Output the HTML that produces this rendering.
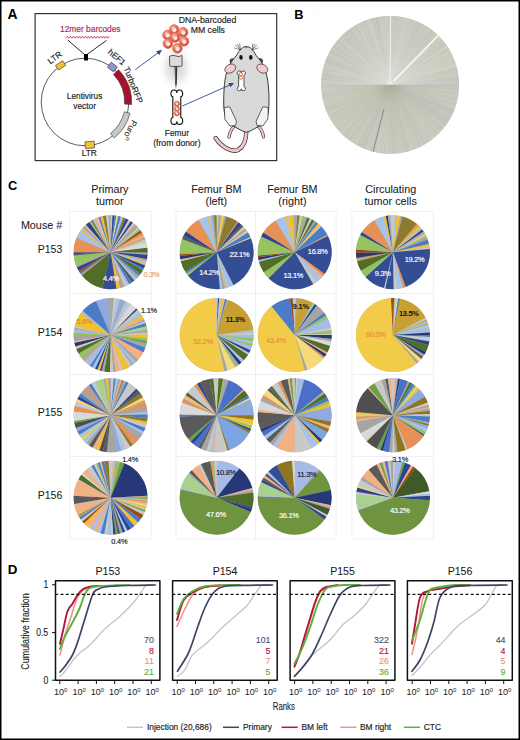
<!DOCTYPE html>
<html><head><meta charset="utf-8"><title>Figure</title>
<style>
html,body{margin:0;padding:0;background:#fff;}
#fig{position:relative;width:520px;height:740px;overflow:hidden;background:#fff;}
#fig svg{position:absolute;left:0;top:0;}
text{font-family:"Liberation Sans", sans-serif;}
</style></head><body>
<div id="fig">
<svg width="520" height="740" viewBox="0 0 520 740" font-family="Liberation Sans, sans-serif">
<text x="7.6" y="19.0" font-size="13.9" fill="#000" text-anchor="start" font-weight="bold" >A</text>
<text x="294.2" y="18.8" font-size="12.8" fill="#000" text-anchor="start" font-weight="bold" >B</text>
<text x="7.9" y="190.2" font-size="12.8" fill="#000" text-anchor="start" font-weight="bold" >C</text>
<text x="7.7" y="574.0" font-size="13.4" fill="#000" text-anchor="start" font-weight="bold" >D</text>
<rect x="35.1" y="13.6" width="241.6" height="147" fill="none" stroke="#333" stroke-width="1.2"/>
<circle cx="85" cy="102" r="43.8" fill="none" stroke="#333" stroke-width="0.8"/>
<path d="M67.8,40 L85.6,55.5 L106.5,40.4" fill="none" stroke="#111" stroke-width="0.9"/>
<rect x="84" y="54" width="4" height="6.5" fill="#000"/>
<path d="M65.9,38.3 L67.40,36.10 L68.90,38.30 L70.40,36.10 L71.90,38.30 L73.40,36.10 L74.90,38.30 L76.40,36.10 L77.90,38.30 L79.40,36.10 L80.90,38.30 L82.40,36.10 L83.90,38.30 L85.40,36.10 L86.90,38.30 L88.40,36.10 L89.90,38.30 L91.40,36.10 L92.90,38.30 L94.40,36.10 L95.90,38.30 L97.40,36.10 L98.90,38.30 L100.40,36.10 L101.90,38.30 L103.40,36.10 L104.90,38.30 L106.40,36.10 L107.90,38.30 L109.40,36.10" fill="none" stroke="#B8304E" stroke-width="0.75" stroke-linejoin="round"/>
<text x="90.3" y="31.9" font-size="8.4" fill="#B02550" text-anchor="middle" font-weight="normal" stroke="#B02550" stroke-width="0.16" >12mer barcodes</text>
<rect x="-4.3" y="-2.75" width="8.6" height="5.5" fill="#F2C12E" stroke="#333" stroke-width="0.6" transform="translate(60.6,65.4) rotate(-33.7)"/>
<text x="0" y="0" font-size="8.4" fill="#222" text-anchor="middle" font-weight="normal" stroke="#222" stroke-width="0.16" transform="translate(56.5,60) rotate(-36)">LTR</text>
<rect x="-4.6" y="-3.4" width="9.2" height="6.8" fill="#F2C12E" stroke="#333" stroke-width="0.6" transform="translate(89.8,144.9) rotate(-4)"/>
<text x="89.3" y="156.3" font-size="8.4" fill="#222" text-anchor="middle" font-weight="normal" stroke="#222" stroke-width="0.16" >LTR</text>
<rect x="-3.9" y="-3.1" width="7.8" height="6.2" fill="#8E9ACB" stroke="#333" stroke-width="0.6" transform="translate(112.4,67.1) rotate(37)"/>
<text x="0" y="0" font-size="8.4" fill="#222" text-anchor="middle" font-weight="normal" stroke="#222" stroke-width="0.16" transform="translate(115,59.4) rotate(40)">hEF1</text>
<path d="M118.52,69.63 A46.6,46.6 0 0 1 131.54,104.44 L124.55,104.07 A39.6,39.6 0 0 0 113.49,74.49 Z" fill="#A8102E" stroke="#333" stroke-width="0.6"/>
<path d="M130.02,113.23 A46.4,46.4 0 0 1 114.20,138.06 L110.55,133.55 A40.6,40.6 0 0 0 124.39,111.82 Z" fill="#C8C8CC" stroke="#333" stroke-width="0.6"/>
<text x="0" y="0" font-size="8.4" fill="#222" text-anchor="middle" font-weight="normal" stroke="#222" stroke-width="0.16" transform="translate(130.6,86.1) rotate(68)">TurboRFP</text>
<text x="0" y="0" font-size="8.4" fill="#222" text-anchor="middle" transform="translate(127.2,128.9) rotate(118)">Puro<tspan font-size="5" dy="-3">R</tspan></text>
<text x="84.6" y="98.8" font-size="8.3" fill="#222" text-anchor="middle" font-weight="normal" stroke="#222" stroke-width="0.16" >Lentivirus</text>
<text x="84.6" y="108.6" font-size="8.3" fill="#222" text-anchor="middle" font-weight="normal" stroke="#222" stroke-width="0.16" >vector</text>
<path d="M135.4,69.6 L159,52" stroke="#2E4A8A" stroke-width="0.9" fill="none"/>
<path d="M162,49.8 L156.2,51.2 L159.2,55.2 Z" fill="#2E4A8A"/>
<defs><radialGradient id="glow" cx="0.5" cy="0.5" r="0.5"><stop offset="0" stop-color="#d0d0d0"/><stop offset="0.5" stop-color="#e8e8e8"/><stop offset="1" stop-color="#fff" stop-opacity="0"/></radialGradient></defs>
<ellipse cx="176" cy="68" rx="19" ry="24" fill="url(#glow)"/>
<defs><radialGradient id="cell" cx="0.38" cy="0.32" r="0.7"><stop offset="0" stop-color="#F6C4BC"/><stop offset="0.45" stop-color="#E47A70"/><stop offset="1" stop-color="#C8343A"/></radialGradient></defs>
<circle cx="174.1" cy="29.5" r="4.8" fill="url(#cell)" stroke="#E8743C" stroke-width="0.9"/>
<circle cx="174.4" cy="30.0" r="2.0" fill="#FBEDE2" stroke="#F2CFC0" stroke-width="0.4"/>
<circle cx="167.5" cy="35.1" r="4.8" fill="url(#cell)" stroke="#E8743C" stroke-width="0.9"/>
<circle cx="167.8" cy="35.6" r="2.0" fill="#FBEDE2" stroke="#F2CFC0" stroke-width="0.4"/>
<circle cx="183.1" cy="32.3" r="4.8" fill="url(#cell)" stroke="#E8743C" stroke-width="0.9"/>
<circle cx="183.4" cy="32.8" r="2.0" fill="#FBEDE2" stroke="#F2CFC0" stroke-width="0.4"/>
<circle cx="184" cy="41.3" r="4.8" fill="url(#cell)" stroke="#E8743C" stroke-width="0.9"/>
<circle cx="184.3" cy="41.8" r="2.0" fill="#FBEDE2" stroke="#F2CFC0" stroke-width="0.4"/>
<circle cx="175" cy="37.5" r="4.8" fill="url(#cell)" stroke="#E8743C" stroke-width="0.9"/>
<circle cx="175.3" cy="38.0" r="2.0" fill="#FBEDE2" stroke="#F2CFC0" stroke-width="0.4"/>
<circle cx="167.9" cy="43.6" r="4.8" fill="url(#cell)" stroke="#E8743C" stroke-width="0.9"/>
<circle cx="168.20000000000002" cy="44.1" r="2.0" fill="#FBEDE2" stroke="#F2CFC0" stroke-width="0.4"/>
<circle cx="177.4" cy="48.4" r="4.8" fill="url(#cell)" stroke="#E8743C" stroke-width="0.9"/>
<circle cx="177.70000000000002" cy="48.9" r="2.0" fill="#FBEDE2" stroke="#F2CFC0" stroke-width="0.4"/>
<path d="M169.6,56.2 Q173,54.4 176,56 Q179,57.4 182,55.4 L182,65.2 Q182,66.4 180.8,66.4 L170.8,66.4 Q169.6,66.4 169.6,65.2 Z" fill="#DCDCDC" stroke="#333" stroke-width="0.8"/>
<path d="M174.6,66.4 L177.2,66.4 L176.9,83 L175.9,88.6 L175.1,83 Z" fill="#333"/>
<path d="M175.6,67 L175.6,81" stroke="#888" stroke-width="0.5"/>
<path d="M172.83,96.88 C170.10,96.88 170.10,89.50 174.01,90.00 Q176.80,89.70 176.80,93.10 Q176.80,89.70 179.59,90.00 C183.50,89.50 183.50,96.88 180.77,96.88 L180.77,117.52 C183.50,117.52 183.50,124.90 179.59,124.40 Q176.80,124.70 176.80,121.30 Q176.80,124.70 174.01,124.40 C170.10,124.90 170.10,117.52 172.83,117.52 Z" fill="#fff" stroke="#111" stroke-width="1.1"/>
<circle cx="176.9" cy="103.7" r="2.6" fill="url(#cell)" stroke="#E8743C" stroke-width="0.7"/>
<circle cx="177.1" cy="104.0" r="1.1" fill="#FBEDE2"/>
<circle cx="176.9" cy="108.6" r="2.6" fill="url(#cell)" stroke="#E8743C" stroke-width="0.7"/>
<circle cx="177.1" cy="108.89999999999999" r="1.1" fill="#FBEDE2"/>
<circle cx="176.9" cy="113.3" r="2.6" fill="url(#cell)" stroke="#E8743C" stroke-width="0.7"/>
<circle cx="177.1" cy="113.6" r="1.1" fill="#FBEDE2"/>
<text x="176.9" y="135.5" font-size="8.4" fill="#222" text-anchor="middle" font-weight="normal" stroke="#222" stroke-width="0.16" >Femur</text>
<text x="176.9" y="145.9" font-size="8.6" fill="#222" text-anchor="middle" font-weight="normal" stroke="#222" stroke-width="0.16" >(from donor)</text>
<text x="207.5" y="22.8" font-size="8.7" fill="#222" text-anchor="middle" font-weight="normal" stroke="#222" stroke-width="0.16" >DNA-barcoded</text>
<text x="207.8" y="32.9" font-size="8.7" fill="#222" text-anchor="middle" font-weight="normal" stroke="#222" stroke-width="0.16" >MM cells</text>
<path d="M246.3,131 C246.3,140 244,146.5 238,150 C232,152.5 222,147.5 215.6,138" fill="none" stroke="#333" stroke-width="4.4" stroke-linecap="round"/>
<path d="M246.3,131 C246.3,140 244,146.5 238,150 C232,152.5 222,147.5 215.6,138" fill="none" stroke="#F2C6C6" stroke-width="3.0" stroke-linecap="round"/>
<path d="M235,125.5 Q230.5,129 229,137" fill="none" stroke="#333" stroke-width="3.2" stroke-linecap="round"/>
<path d="M235,125.5 Q230.5,129 229,137" fill="none" stroke="#F2C6C6" stroke-width="2.0" stroke-linecap="round"/>
<path d="M257.6,125.5 Q262.1,129 263.6,137" fill="none" stroke="#333" stroke-width="3.2" stroke-linecap="round"/>
<path d="M257.6,125.5 Q262.1,129 263.6,137" fill="none" stroke="#F2C6C6" stroke-width="2.0" stroke-linecap="round"/>
<ellipse cx="232.8" cy="61" rx="3" ry="2.4" fill="#555" stroke="#222" stroke-width="0.5"/>
<ellipse cx="259.8" cy="61" rx="3" ry="2.4" fill="#555" stroke="#222" stroke-width="0.5"/>
<path d="M246.3,46.4 C249.8,46.4 253.3,50 256.2,55.6 C259.8,59.6 263.2,64 265.2,70 C268.2,78 269,90 269,103 C269,116 265.5,124 257.5,127 C253.5,129 249.3,132.2 246.3,132.2 C243.3,132.2 239.1,129 235.1,127 C227.1,124 223.7,116 223.7,103 C223.7,90 224.5,78 227.4,70 C229.4,64 232.8,59.6 236.4,55.6 C239.3,50 242.8,46.4 246.3,46.4 Z" fill="#D9D9D9" stroke="#222" stroke-width="0.9"/>
<path d="M224.3,107.5 L229.8,106.8 L236.5,121.3 L235.6,125.5 L229.8,126 L224.8,119 Z" fill="#F4F4F4" stroke="#222" stroke-width="0.7"/>
<path d="M268.3,107.5 L262.8,106.8 L256.1,121.3 L257,125.5 L262.8,126 L267.8,119 Z" fill="#F4F4F4" stroke="#222" stroke-width="0.7"/>
<ellipse cx="230.3" cy="68.6" rx="5.8" ry="4.2" transform="rotate(-28 230.3 68.6)" fill="#F4CACE" stroke="#222" stroke-width="0.6"/>
<ellipse cx="262.3" cy="68.6" rx="5.8" ry="4.2" transform="rotate(28 262.3 68.6)" fill="#F4CACE" stroke="#222" stroke-width="0.6"/>
<ellipse cx="246.3" cy="47.3" rx="1.6" ry="1" fill="#888"/>
<ellipse cx="241" cy="57.4" rx="1.7" ry="2.3" fill="#111"/><ellipse cx="250.8" cy="57.4" rx="1.7" ry="2.3" fill="#111"/>
<path d="M240.5,50 L234,47.8 M240.5,50 L235.2,45 M240.5,50 L237.3,43.8 M240.5,50 L239.6,43.4 M252,50 L258.5,47.8 M252,50 L257.3,45 M252,50 L255.2,43.8 M252,50 L252.9,43.4" stroke="#333" stroke-width="0.55"/>
<path d="M238.61,75.02 C236.60,75.02 236.60,70.60 239.41,71.10 Q241.30,70.80 241.30,72.86 Q241.30,70.80 243.19,71.10 C246.00,70.60 246.00,75.02 243.99,75.02 L243.99,86.78 C246.00,86.78 246.00,91.20 243.19,90.70 Q241.30,91.00 241.30,88.94 Q241.30,91.00 239.41,90.70 C236.60,91.20 236.60,86.78 238.61,86.78 Z" fill="#fff" stroke="#111" stroke-width="0.7"/>
<circle cx="240.9" cy="74.2" r="1.6" fill="none" stroke="#E0603A" stroke-width="0.9"/><circle cx="240.9" cy="77.6" r="1.6" fill="none" stroke="#E0603A" stroke-width="0.9"/>
<path d="M182.3,106 L230.8,84.6" stroke="#2E4A8A" stroke-width="0.9" fill="none"/>
<path d="M234.2,83.1 L228.4,83.0 L230.3,87.3 Z" fill="#2E4A8A"/>
<rect x="314" y="8.3" width="152.7" height="152.7" fill="none" stroke="#F0F0F0" stroke-width="0.6" stroke-dasharray="0.6 1.2"/>
<circle cx="390.1" cy="84.8" r="68.9" fill="#C7C9BD"/>
<path d="M390.10,84.80L390.10,15.90A68.9,68.9 0 0 1 391.13,15.91Z" fill="#CDCDBF"/>
<path d="M390.10,84.80L391.13,15.91A68.9,68.9 0 0 1 392.25,15.93Z" fill="#C9CBBF"/>
<path d="M390.10,84.80L392.25,15.93A68.9,68.9 0 0 1 392.95,15.96Z" fill="#CCCABA"/>
<path d="M390.10,84.80L392.95,15.96A68.9,68.9 0 0 1 393.67,15.99Z" fill="#C6CAC4"/>
<path d="M390.10,84.80L393.67,15.99A68.9,68.9 0 0 1 394.35,16.03Z" fill="#CCCABA"/>
<path d="M390.10,84.80L394.35,16.03A68.9,68.9 0 0 1 395.23,16.09Z" fill="#C3C6BA"/>
<path d="M390.10,84.80L395.23,16.09A68.9,68.9 0 0 1 396.41,16.19Z" fill="#C3C6BA"/>
<path d="M390.10,84.80L396.41,16.19A68.9,68.9 0 0 1 397.32,16.28Z" fill="#CCCABA"/>
<path d="M390.10,84.80L397.32,16.28A68.9,68.9 0 0 1 398.48,16.41Z" fill="#C6CAC4"/>
<path d="M390.10,84.80L398.48,16.41A68.9,68.9 0 0 1 399.23,16.51Z" fill="#C4C8C0"/>
<path d="M390.10,84.80L399.23,16.51A68.9,68.9 0 0 1 400.66,16.71Z" fill="#C6CAC4"/>
<path d="M390.10,84.80L400.66,16.71A68.9,68.9 0 0 1 402.48,17.02Z" fill="#C6CAC4"/>
<path d="M390.10,84.80L402.48,17.02A68.9,68.9 0 0 1 403.84,17.28Z" fill="#C9CBBF"/>
<path d="M390.10,84.80L403.84,17.28A68.9,68.9 0 0 1 405.68,17.69Z" fill="#C9CBBF"/>
<path d="M390.10,84.80L405.68,17.69A68.9,68.9 0 0 1 406.98,18.00Z" fill="#CDCDBF"/>
<path d="M390.10,84.80L406.98,18.00A68.9,68.9 0 0 1 407.94,18.25Z" fill="#CDCDBF"/>
<path d="M390.10,84.80L407.94,18.25A68.9,68.9 0 0 1 409.21,18.60Z" fill="#C6CAC4"/>
<path d="M390.10,84.80L409.21,18.60A68.9,68.9 0 0 1 410.17,18.89Z" fill="#D1CDBC"/>
<path d="M390.10,84.80L410.17,18.89A68.9,68.9 0 0 1 410.98,19.14Z" fill="#C6CAC4"/>
<path d="M390.10,84.80L410.98,19.14A68.9,68.9 0 0 1 412.26,19.56Z" fill="#C4C8C0"/>
<path d="M390.10,84.80L412.26,19.56A68.9,68.9 0 0 1 413.30,19.92Z" fill="#CCCABA"/>
<path d="M390.10,84.80L413.30,19.92A68.9,68.9 0 0 1 414.74,20.46Z" fill="#C6CAC4"/>
<path d="M390.10,84.80L414.74,20.46A68.9,68.9 0 0 1 415.38,20.70Z" fill="#C4C8C0"/>
<path d="M390.10,84.80L415.38,20.70A68.9,68.9 0 0 1 416.54,21.18Z" fill="#CCCABA"/>
<path d="M390.10,84.80L416.54,21.18A68.9,68.9 0 0 1 417.62,21.63Z" fill="#BFC4BC"/>
<path d="M390.10,84.80L417.62,21.63A68.9,68.9 0 0 1 418.73,22.13Z" fill="#C2C6C2"/>
<path d="M390.10,84.80L418.73,22.13A68.9,68.9 0 0 1 419.71,22.59Z" fill="#C4C8C0"/>
<path d="M390.10,84.80L419.71,22.59A68.9,68.9 0 0 1 421.19,23.31Z" fill="#BEC3BF"/>
<path d="M390.10,84.80L421.19,23.31A68.9,68.9 0 0 1 422.64,24.07Z" fill="#C3C6BA"/>
<path d="M390.10,84.80L422.64,24.07A68.9,68.9 0 0 1 423.83,24.72Z" fill="#CCCABA"/>
<path d="M390.10,84.80L423.83,24.72A68.9,68.9 0 0 1 424.92,25.35Z" fill="#BFC4BC"/>
<path d="M390.10,84.80L424.92,25.35A68.9,68.9 0 0 1 426.26,26.15Z" fill="#CACBBB"/>
<path d="M390.10,84.80L426.26,26.15A68.9,68.9 0 0 1 427.45,26.90Z" fill="#C3C6BA"/>
<path d="M390.10,84.80L427.45,26.90A68.9,68.9 0 0 1 428.09,27.32Z" fill="#D0CFC0"/>
<path d="M390.10,84.80L428.09,27.32A68.9,68.9 0 0 1 428.77,27.77Z" fill="#BFC4BC"/>
<path d="M390.10,84.80L428.77,27.77A68.9,68.9 0 0 1 429.43,28.23Z" fill="#C2C6C2"/>
<path d="M390.10,84.80L429.43,28.23A68.9,68.9 0 0 1 430.38,28.90Z" fill="#D1CDBC"/>
<path d="M390.10,84.80L430.38,28.90A68.9,68.9 0 0 1 430.95,29.31Z" fill="#CCCABA"/>
<path d="M390.10,84.80L430.95,29.31A68.9,68.9 0 0 1 432.03,30.13Z" fill="#BFC4BC"/>
<path d="M390.10,84.80L432.03,30.13A68.9,68.9 0 0 1 432.86,30.78Z" fill="#BFC4BC"/>
<path d="M390.10,84.80L432.86,30.78A68.9,68.9 0 0 1 433.94,31.65Z" fill="#C6CAC4"/>
<path d="M390.10,84.80L433.94,31.65A68.9,68.9 0 0 1 435.20,32.72Z" fill="#C3C6BA"/>
<path d="M390.10,84.80L435.20,32.72A68.9,68.9 0 0 1 436.49,33.85Z" fill="#CACBBB"/>
<path d="M390.10,84.80L436.49,33.85A68.9,68.9 0 0 1 437.39,34.69Z" fill="#D1CDBC"/>
<path d="M390.10,84.80L437.39,34.69A68.9,68.9 0 0 1 437.88,35.16Z" fill="#BEC3BF"/>
<path d="M390.10,84.80L437.88,35.16A68.9,68.9 0 0 1 438.97,36.23Z" fill="#D1CDBC"/>
<path d="M390.10,84.80L438.97,36.23A68.9,68.9 0 0 1 439.93,37.21Z" fill="#D1CDBC"/>
<path d="M390.10,84.80L439.93,37.21A68.9,68.9 0 0 1 441.08,38.45Z" fill="#CACBBB"/>
<path d="M390.10,84.80L441.08,38.45A68.9,68.9 0 0 1 442.11,39.61Z" fill="#D1CDBC"/>
<path d="M390.10,84.80L442.11,39.61A68.9,68.9 0 0 1 442.80,40.41Z" fill="#C2C6C2"/>
<path d="M390.10,84.80L442.80,40.41A68.9,68.9 0 0 1 443.48,41.24Z" fill="#C6CAC4"/>
<path d="M390.10,84.80L443.48,41.24A68.9,68.9 0 0 1 443.95,41.82Z" fill="#C9CBBF"/>
<path d="M390.10,84.80L443.95,41.82A68.9,68.9 0 0 1 444.51,42.52Z" fill="#CACBBB"/>
<path d="M390.10,84.80L444.51,42.52A68.9,68.9 0 0 1 444.98,43.14Z" fill="#C4C8C0"/>
<path d="M390.10,84.80L444.98,43.14A68.9,68.9 0 0 1 445.65,44.04Z" fill="#C2C6C2"/>
<path d="M390.10,84.80L445.65,44.04A68.9,68.9 0 0 1 446.07,44.61Z" fill="#C2C6C2"/>
<path d="M390.10,84.80L446.07,44.61A68.9,68.9 0 0 1 446.72,45.54Z" fill="#CACBBB"/>
<path d="M390.10,84.80L446.72,45.54A68.9,68.9 0 0 1 447.71,47.01Z" fill="#D0CFC0"/>
<path d="M390.10,84.80L447.71,47.01A68.9,68.9 0 0 1 448.65,48.48Z" fill="#CACBBB"/>
<path d="M390.10,84.80L448.65,48.48A68.9,68.9 0 0 1 449.44,49.79Z" fill="#BFC4BC"/>
<path d="M390.10,84.80L449.44,49.79A68.9,68.9 0 0 1 450.19,51.09Z" fill="#D0CFC0"/>
<path d="M390.10,84.80L450.19,51.09A68.9,68.9 0 0 1 451.08,52.74Z" fill="#CDCDBF"/>
<path d="M390.10,84.80L451.08,52.74A68.9,68.9 0 0 1 451.41,53.37Z" fill="#CDCDBF"/>
<path d="M390.10,84.80L451.41,53.37A68.9,68.9 0 0 1 451.82,54.18Z" fill="#C4C8C0"/>
<path d="M390.10,84.80L451.82,54.18A68.9,68.9 0 0 1 452.09,54.73Z" fill="#C6CAC4"/>
<path d="M390.10,84.80L452.09,54.73A68.9,68.9 0 0 1 452.46,55.49Z" fill="#CACBBB"/>
<path d="M390.10,84.80L452.46,55.49A68.9,68.9 0 0 1 452.71,56.04Z" fill="#D0CFC0"/>
<path d="M390.10,84.80L452.71,56.04A68.9,68.9 0 0 1 453.25,57.24Z" fill="#C6CAC4"/>
<path d="M390.10,84.80L453.25,57.24A68.9,68.9 0 0 1 453.77,58.48Z" fill="#CDCDBF"/>
<path d="M390.10,84.80L453.77,58.48A68.9,68.9 0 0 1 454.34,59.88Z" fill="#CCCABA"/>
<path d="M390.10,84.80L454.34,59.88A68.9,68.9 0 0 1 454.99,61.63Z" fill="#D1CDBC"/>
<path d="M390.10,84.80L454.99,61.63A68.9,68.9 0 0 1 455.47,63.04Z" fill="#C9CBBF"/>
<path d="M390.10,84.80L455.47,63.04A68.9,68.9 0 0 1 455.84,64.19Z" fill="#D1CDBC"/>
<path d="M390.10,84.80L455.84,64.19A68.9,68.9 0 0 1 456.32,65.77Z" fill="#D0CFC0"/>
<path d="M390.10,84.80L456.32,65.77A68.9,68.9 0 0 1 456.62,66.86Z" fill="#D0CFC0"/>
<path d="M390.10,84.80L456.62,66.86A68.9,68.9 0 0 1 456.81,67.57Z" fill="#D1CDBC"/>
<path d="M390.10,84.80L456.81,67.57A68.9,68.9 0 0 1 457.09,68.67Z" fill="#C4C8C0"/>
<path d="M390.10,84.80L457.09,68.67A68.9,68.9 0 0 1 457.24,69.34Z" fill="#C4C8C0"/>
<path d="M390.10,84.80L457.24,69.34A68.9,68.9 0 0 1 457.50,70.50Z" fill="#C3C6BA"/>
<path d="M390.10,84.80L457.50,70.50A68.9,68.9 0 0 1 457.71,71.53Z" fill="#C9CBBF"/>
<path d="M390.10,84.80L457.71,71.53A68.9,68.9 0 0 1 457.85,72.25Z" fill="#C6CAC4"/>
<path d="M390.10,84.80L457.85,72.25A68.9,68.9 0 0 1 457.99,73.04Z" fill="#C3C6BA"/>
<path d="M390.10,84.80L457.99,73.04A68.9,68.9 0 0 1 458.28,74.87Z" fill="#C6CAC4"/>
<path d="M390.10,84.80L458.28,74.87A68.9,68.9 0 0 1 458.37,75.50Z" fill="#C4C8C0"/>
<path d="M390.10,84.80L458.37,75.50A68.9,68.9 0 0 1 458.55,76.91Z" fill="#CDCDBF"/>
<path d="M390.10,84.80L458.55,76.91A68.9,68.9 0 0 1 458.70,78.34Z" fill="#BFC4BC"/>
<path d="M390.10,84.80L458.70,78.34A68.9,68.9 0 0 1 458.81,79.73Z" fill="#C2C6C2"/>
<path d="M390.10,84.80L458.81,79.73A68.9,68.9 0 0 1 458.87,80.49Z" fill="#C2C6C2"/>
<path d="M390.10,84.80L458.87,80.49A68.9,68.9 0 0 1 458.96,82.41Z" fill="#C2C6C2"/>
<path d="M390.10,84.80L458.96,82.41A68.9,68.9 0 0 1 458.99,83.64Z" fill="#CACBBB"/>
<path d="M390.10,84.80L458.99,83.64A68.9,68.9 0 0 1 459.00,84.36Z" fill="#C3C6BA"/>
<path d="M390.10,84.80L459.00,84.36A68.9,68.9 0 0 1 458.99,85.95Z" fill="#BEC3BF"/>
<path d="M390.10,84.80L458.99,85.95A68.9,68.9 0 0 1 458.97,86.90Z" fill="#BEC3BF"/>
<path d="M390.10,84.80L458.97,86.90A68.9,68.9 0 0 1 458.94,87.72Z" fill="#C9CBBF"/>
<path d="M390.10,84.80L458.94,87.72A68.9,68.9 0 0 1 458.90,88.59Z" fill="#CCCABA"/>
<path d="M390.10,84.80L458.90,88.59A68.9,68.9 0 0 1 458.83,89.66Z" fill="#BEC3BF"/>
<path d="M390.10,84.80L458.83,89.66A68.9,68.9 0 0 1 458.72,90.98Z" fill="#C9CBBF"/>
<path d="M390.10,84.80L458.72,90.98A68.9,68.9 0 0 1 458.56,92.58Z" fill="#CACBBB"/>
<path d="M390.10,84.80L458.56,92.58A68.9,68.9 0 0 1 458.32,94.46Z" fill="#C3C6BA"/>
<path d="M390.10,84.80L458.32,94.46A68.9,68.9 0 0 1 458.09,95.96Z" fill="#CACBBB"/>
<path d="M390.10,84.80L458.09,95.96A68.9,68.9 0 0 1 457.87,97.23Z" fill="#CDCDBF"/>
<path d="M390.10,84.80L457.87,97.23A68.9,68.9 0 0 1 457.67,98.28Z" fill="#C4C8C0"/>
<path d="M390.10,84.80L457.67,98.28A68.9,68.9 0 0 1 457.40,99.56Z" fill="#CCCABA"/>
<path d="M390.10,84.80L457.40,99.56A68.9,68.9 0 0 1 457.17,100.57Z" fill="#C4C8C0"/>
<path d="M390.10,84.80L457.17,100.57A68.9,68.9 0 0 1 456.83,101.94Z" fill="#C4C8C0"/>
<path d="M390.10,84.80L456.83,101.94A68.9,68.9 0 0 1 456.40,103.55Z" fill="#D0CFC0"/>
<path d="M390.10,84.80L456.40,103.55A68.9,68.9 0 0 1 455.95,105.07Z" fill="#C4C8C0"/>
<path d="M390.10,84.80L455.95,105.07A68.9,68.9 0 0 1 455.69,105.89Z" fill="#C2C6C2"/>
<path d="M390.10,84.80L455.69,105.89A68.9,68.9 0 0 1 455.36,106.91Z" fill="#C9CBBF"/>
<path d="M390.10,84.80L455.36,106.91A68.9,68.9 0 0 1 454.72,108.71Z" fill="#CACBBB"/>
<path d="M390.10,84.80L454.72,108.71A68.9,68.9 0 0 1 454.28,109.86Z" fill="#C4C8C0"/>
<path d="M390.10,84.80L454.28,109.86A68.9,68.9 0 0 1 453.71,111.27Z" fill="#BFC4BC"/>
<path d="M390.10,84.80L453.71,111.27A68.9,68.9 0 0 1 453.25,112.36Z" fill="#BEC3BF"/>
<path d="M390.10,84.80L453.25,112.36A68.9,68.9 0 0 1 452.46,114.10Z" fill="#BFC4BC"/>
<path d="M390.10,84.80L452.46,114.10A68.9,68.9 0 0 1 452.16,114.74Z" fill="#C3C6BA"/>
<path d="M390.10,84.80L452.16,114.74A68.9,68.9 0 0 1 451.76,115.55Z" fill="#C4C8C0"/>
<path d="M390.10,84.80L451.76,115.55A68.9,68.9 0 0 1 451.28,116.48Z" fill="#C2C6C2"/>
<path d="M390.10,84.80L451.28,116.48A68.9,68.9 0 0 1 450.61,117.74Z" fill="#C6CAC4"/>
<path d="M390.10,84.80L450.61,117.74A68.9,68.9 0 0 1 449.78,119.24Z" fill="#C2C6C2"/>
<path d="M390.10,84.80L449.78,119.24A68.9,68.9 0 0 1 448.85,120.79Z" fill="#BFC4BC"/>
<path d="M390.10,84.80L448.85,120.79A68.9,68.9 0 0 1 447.97,122.19Z" fill="#C3C6BA"/>
<path d="M390.10,84.80L447.97,122.19A68.9,68.9 0 0 1 447.03,123.61Z" fill="#C3C6BA"/>
<path d="M390.10,84.80L447.03,123.61A68.9,68.9 0 0 1 445.99,125.09Z" fill="#BEC3BF"/>
<path d="M390.10,84.80L445.99,125.09A68.9,68.9 0 0 1 445.05,126.37Z" fill="#C2C6C2"/>
<path d="M390.10,84.80L445.05,126.37A68.9,68.9 0 0 1 443.95,127.78Z" fill="#D0CFC0"/>
<path d="M390.10,84.80L443.95,127.78A68.9,68.9 0 0 1 442.91,129.05Z" fill="#BFC4BC"/>
<path d="M390.10,84.80L442.91,129.05A68.9,68.9 0 0 1 442.45,129.60Z" fill="#BEC3BF"/>
<path d="M390.10,84.80L442.45,129.60A68.9,68.9 0 0 1 441.71,130.44Z" fill="#D0CFC0"/>
<path d="M390.10,84.80L441.71,130.44A68.9,68.9 0 0 1 440.65,131.62Z" fill="#C3C6BA"/>
<path d="M390.10,84.80L440.65,131.62A68.9,68.9 0 0 1 439.58,132.75Z" fill="#CDCDBF"/>
<path d="M390.10,84.80L439.58,132.75A68.9,68.9 0 0 1 438.22,134.11Z" fill="#C9CBBF"/>
<path d="M390.10,84.80L438.22,134.11A68.9,68.9 0 0 1 437.65,134.66Z" fill="#C2C6C2"/>
<path d="M390.10,84.80L437.65,134.66A68.9,68.9 0 0 1 436.43,135.80Z" fill="#CDCDBF"/>
<path d="M390.10,84.80L436.43,135.80A68.9,68.9 0 0 1 435.37,136.74Z" fill="#C6CAC4"/>
<path d="M390.10,84.80L435.37,136.74A68.9,68.9 0 0 1 433.93,137.97Z" fill="#D1CDBC"/>
<path d="M390.10,84.80L433.93,137.97A68.9,68.9 0 0 1 432.49,139.12Z" fill="#CDCDBF"/>
<path d="M390.10,84.80L432.49,139.12A68.9,68.9 0 0 1 431.44,139.92Z" fill="#CDCDBF"/>
<path d="M390.10,84.80L431.44,139.92A68.9,68.9 0 0 1 430.93,140.30Z" fill="#BEC3BF"/>
<path d="M390.10,84.80L430.93,140.30A68.9,68.9 0 0 1 429.74,141.15Z" fill="#CCCABA"/>
<path d="M390.10,84.80L429.74,141.15A68.9,68.9 0 0 1 428.43,142.05Z" fill="#CDCDBF"/>
<path d="M390.10,84.80L428.43,142.05A68.9,68.9 0 0 1 427.45,142.70Z" fill="#C4C8C0"/>
<path d="M390.10,84.80L427.45,142.70A68.9,68.9 0 0 1 426.01,143.60Z" fill="#C4C8C0"/>
<path d="M390.10,84.80L426.01,143.60A68.9,68.9 0 0 1 425.47,143.93Z" fill="#C4C8C0"/>
<path d="M390.10,84.80L425.47,143.93A68.9,68.9 0 0 1 424.62,144.43Z" fill="#C4C8C0"/>
<path d="M390.10,84.80L424.62,144.43A68.9,68.9 0 0 1 423.21,145.22Z" fill="#BFC4BC"/>
<path d="M390.10,84.80L423.21,145.22A68.9,68.9 0 0 1 422.38,145.67Z" fill="#D0CFC0"/>
<path d="M390.10,84.80L422.38,145.67A68.9,68.9 0 0 1 420.87,146.45Z" fill="#C9CBBF"/>
<path d="M390.10,84.80L420.87,146.45A68.9,68.9 0 0 1 419.24,147.23Z" fill="#BFC4BC"/>
<path d="M390.10,84.80L419.24,147.23A68.9,68.9 0 0 1 417.61,147.97Z" fill="#D1CDBC"/>
<path d="M390.10,84.80L417.61,147.97A68.9,68.9 0 0 1 416.34,148.51Z" fill="#CCCABA"/>
<path d="M390.10,84.80L416.34,148.51A68.9,68.9 0 0 1 415.27,148.94Z" fill="#CCCABA"/>
<path d="M390.10,84.80L415.27,148.94A68.9,68.9 0 0 1 414.55,149.22Z" fill="#CDCDBF"/>
<path d="M390.10,84.80L414.55,149.22A68.9,68.9 0 0 1 413.33,149.66Z" fill="#C9CBBF"/>
<path d="M390.10,84.80L413.33,149.66A68.9,68.9 0 0 1 411.67,150.24Z" fill="#CDCDBF"/>
<path d="M390.10,84.80L411.67,150.24A68.9,68.9 0 0 1 410.33,150.66Z" fill="#CDCDBF"/>
<path d="M390.10,84.80L410.33,150.66A68.9,68.9 0 0 1 409.54,150.90Z" fill="#C2C6C2"/>
<path d="M390.10,84.80L409.54,150.90A68.9,68.9 0 0 1 408.17,151.29Z" fill="#C3C6BA"/>
<path d="M390.10,84.80L408.17,151.29A68.9,68.9 0 0 1 406.88,151.63Z" fill="#BFC4BC"/>
<path d="M390.10,84.80L406.88,151.63A68.9,68.9 0 0 1 405.42,151.98Z" fill="#CCCABA"/>
<path d="M390.10,84.80L405.42,151.98A68.9,68.9 0 0 1 404.11,152.26Z" fill="#C3C6BA"/>
<path d="M390.10,84.80L404.11,152.26A68.9,68.9 0 0 1 402.38,152.60Z" fill="#C9CBBF"/>
<path d="M390.10,84.80L402.38,152.60A68.9,68.9 0 0 1 401.46,152.76Z" fill="#CACBBB"/>
<path d="M390.10,84.80L401.46,152.76A68.9,68.9 0 0 1 400.81,152.86Z" fill="#C3C6BA"/>
<path d="M390.10,84.80L400.81,152.86A68.9,68.9 0 0 1 399.55,153.05Z" fill="#CCCABA"/>
<path d="M390.10,84.80L399.55,153.05A68.9,68.9 0 0 1 398.92,153.13Z" fill="#C3C6BA"/>
<path d="M390.10,84.80L398.92,153.13A68.9,68.9 0 0 1 397.74,153.28Z" fill="#C6CAC4"/>
<path d="M390.10,84.80L397.74,153.28A68.9,68.9 0 0 1 395.86,153.46Z" fill="#C6CAC4"/>
<path d="M390.10,84.80L395.86,153.46A68.9,68.9 0 0 1 394.58,153.55Z" fill="#BEC3BF"/>
<path d="M390.10,84.80L394.58,153.55A68.9,68.9 0 0 1 393.62,153.61Z" fill="#CCCABA"/>
<path d="M390.10,84.80L393.62,153.61A68.9,68.9 0 0 1 392.31,153.66Z" fill="#C2C6C2"/>
<path d="M390.10,84.80L392.31,153.66A68.9,68.9 0 0 1 391.04,153.69Z" fill="#C4C8C0"/>
<path d="M390.10,84.80L391.04,153.69A68.9,68.9 0 0 1 389.51,153.70Z" fill="#CACBBB"/>
<path d="M390.10,84.80L389.51,153.70A68.9,68.9 0 0 1 387.69,153.66Z" fill="#C4C8C0"/>
<path d="M390.10,84.80L387.69,153.66A68.9,68.9 0 0 1 385.98,153.58Z" fill="#CDCDBF"/>
<path d="M390.10,84.80L385.98,153.58A68.9,68.9 0 0 1 384.83,153.50Z" fill="#D0CFC0"/>
<path d="M390.10,84.80L384.83,153.50A68.9,68.9 0 0 1 383.65,153.40Z" fill="#C3C6BA"/>
<path d="M390.10,84.80L383.65,153.40A68.9,68.9 0 0 1 382.17,153.24Z" fill="#D0CFC0"/>
<path d="M390.10,84.80L382.17,153.24A68.9,68.9 0 0 1 381.48,153.16Z" fill="#D1CDBC"/>
<path d="M390.10,84.80L381.48,153.16A68.9,68.9 0 0 1 380.48,153.03Z" fill="#C3C6BA"/>
<path d="M390.10,84.80L380.48,153.03A68.9,68.9 0 0 1 378.72,152.75Z" fill="#CDCDBF"/>
<path d="M390.10,84.80L378.72,152.75A68.9,68.9 0 0 1 376.90,152.42Z" fill="#D1CDBC"/>
<path d="M390.10,84.80L376.90,152.42A68.9,68.9 0 0 1 375.46,152.13Z" fill="#CDCDBF"/>
<path d="M390.10,84.80L375.46,152.13A68.9,68.9 0 0 1 374.55,151.92Z" fill="#CDCDBF"/>
<path d="M390.10,84.80L374.55,151.92A68.9,68.9 0 0 1 372.72,151.47Z" fill="#C4C8C0"/>
<path d="M390.10,84.80L372.72,151.47A68.9,68.9 0 0 1 371.19,151.05Z" fill="#C3C6BA"/>
<path d="M390.10,84.80L371.19,151.05A68.9,68.9 0 0 1 370.10,150.73Z" fill="#C2C6C2"/>
<path d="M390.10,84.80L370.10,150.73A68.9,68.9 0 0 1 369.32,150.49Z" fill="#D1CDBC"/>
<path d="M390.10,84.80L369.32,150.49A68.9,68.9 0 0 1 367.71,149.96Z" fill="#CDCDBF"/>
<path d="M390.10,84.80L367.71,149.96A68.9,68.9 0 0 1 366.26,149.44Z" fill="#CCCABA"/>
<path d="M390.10,84.80L366.26,149.44A68.9,68.9 0 0 1 365.20,149.04Z" fill="#D0CFC0"/>
<path d="M390.10,84.80L365.20,149.04A68.9,68.9 0 0 1 364.40,148.73Z" fill="#BFC4BC"/>
<path d="M390.10,84.80L364.40,148.73A68.9,68.9 0 0 1 363.73,148.45Z" fill="#BFC4BC"/>
<path d="M390.10,84.80L363.73,148.45A68.9,68.9 0 0 1 363.15,148.21Z" fill="#CCCABA"/>
<path d="M390.10,84.80L363.15,148.21A68.9,68.9 0 0 1 362.04,147.73Z" fill="#BEC3BF"/>
<path d="M390.10,84.80L362.04,147.73A68.9,68.9 0 0 1 361.47,147.47Z" fill="#BFC4BC"/>
<path d="M390.10,84.80L361.47,147.47A68.9,68.9 0 0 1 360.31,146.93Z" fill="#CACBBB"/>
<path d="M390.10,84.80L360.31,146.93A68.9,68.9 0 0 1 359.16,146.36Z" fill="#C3C6BA"/>
<path d="M390.10,84.80L359.16,146.36A68.9,68.9 0 0 1 358.49,146.02Z" fill="#C4C8C0"/>
<path d="M390.10,84.80L358.49,146.02A68.9,68.9 0 0 1 356.83,145.13Z" fill="#C3C6BA"/>
<path d="M390.10,84.80L356.83,145.13A68.9,68.9 0 0 1 356.21,144.79Z" fill="#CACBBB"/>
<path d="M390.10,84.80L356.21,144.79A68.9,68.9 0 0 1 355.64,144.46Z" fill="#CDCDBF"/>
<path d="M390.10,84.80L355.64,144.46A68.9,68.9 0 0 1 354.81,143.98Z" fill="#CDCDBF"/>
<path d="M390.10,84.80L354.81,143.98A68.9,68.9 0 0 1 353.37,143.10Z" fill="#D1CDBC"/>
<path d="M390.10,84.80L353.37,143.10A68.9,68.9 0 0 1 351.96,142.18Z" fill="#CACBBB"/>
<path d="M390.10,84.80L351.96,142.18A68.9,68.9 0 0 1 351.02,141.54Z" fill="#CCCABA"/>
<path d="M390.10,84.80L351.02,141.54A68.9,68.9 0 0 1 349.53,140.49Z" fill="#C6CAC4"/>
<path d="M390.10,84.80L349.53,140.49A68.9,68.9 0 0 1 348.53,139.74Z" fill="#BFC4BC"/>
<path d="M390.10,84.80L348.53,139.74A68.9,68.9 0 0 1 347.95,139.31Z" fill="#C9CBBF"/>
<path d="M390.10,84.80L347.95,139.31A68.9,68.9 0 0 1 346.65,138.28Z" fill="#CDCDBF"/>
<path d="M390.10,84.80L346.65,138.28A68.9,68.9 0 0 1 345.76,137.53Z" fill="#C3C6BA"/>
<path d="M390.10,84.80L345.76,137.53A68.9,68.9 0 0 1 345.03,136.91Z" fill="#C9CBBF"/>
<path d="M390.10,84.80L345.03,136.91A68.9,68.9 0 0 1 343.95,135.96Z" fill="#CACBBB"/>
<path d="M390.10,84.80L343.95,135.96A68.9,68.9 0 0 1 343.42,135.48Z" fill="#C4C8C0"/>
<path d="M390.10,84.80L343.42,135.48A68.9,68.9 0 0 1 342.92,135.01Z" fill="#C3C6BA"/>
<path d="M390.10,84.80L342.92,135.01A68.9,68.9 0 0 1 342.05,134.18Z" fill="#BFC4BC"/>
<path d="M390.10,84.80L342.05,134.18A68.9,68.9 0 0 1 340.70,132.83Z" fill="#D0CFC0"/>
<path d="M390.10,84.80L340.70,132.83A68.9,68.9 0 0 1 339.44,131.50Z" fill="#CACBBB"/>
<path d="M390.10,84.80L339.44,131.50A68.9,68.9 0 0 1 338.49,130.44Z" fill="#C9CBBF"/>
<path d="M390.10,84.80L338.49,130.44A68.9,68.9 0 0 1 337.63,129.46Z" fill="#C4C8C0"/>
<path d="M390.10,84.80L337.63,129.46A68.9,68.9 0 0 1 336.46,128.04Z" fill="#CDCDBF"/>
<path d="M390.10,84.80L336.46,128.04A68.9,68.9 0 0 1 335.87,127.30Z" fill="#CDCDBF"/>
<path d="M390.10,84.80L335.87,127.30A68.9,68.9 0 0 1 335.34,126.61Z" fill="#CACBBB"/>
<path d="M390.10,84.80L335.34,126.61A68.9,68.9 0 0 1 334.48,125.47Z" fill="#CCCABA"/>
<path d="M390.10,84.80L334.48,125.47A68.9,68.9 0 0 1 333.55,124.16Z" fill="#CACBBB"/>
<path d="M390.10,84.80L333.55,124.16A68.9,68.9 0 0 1 332.88,123.18Z" fill="#D1CDBC"/>
<path d="M390.10,84.80L332.88,123.18A68.9,68.9 0 0 1 332.41,122.48Z" fill="#BFC4BC"/>
<path d="M390.10,84.80L332.41,122.48A68.9,68.9 0 0 1 331.52,121.07Z" fill="#CACBBB"/>
<path d="M390.10,84.80L331.52,121.07A68.9,68.9 0 0 1 331.18,120.52Z" fill="#C9CBBF"/>
<path d="M390.10,84.80L331.18,120.52A68.9,68.9 0 0 1 330.38,119.17Z" fill="#CCCABA"/>
<path d="M390.10,84.80L330.38,119.17A68.9,68.9 0 0 1 329.46,117.51Z" fill="#CCCABA"/>
<path d="M390.10,84.80L329.46,117.51A68.9,68.9 0 0 1 328.89,116.42Z" fill="#C2C6C2"/>
<path d="M390.10,84.80L328.89,116.42A68.9,68.9 0 0 1 328.55,115.76Z" fill="#D1CDBC"/>
<path d="M390.10,84.80L328.55,115.76A68.9,68.9 0 0 1 328.03,114.71Z" fill="#C2C6C2"/>
<path d="M390.10,84.80L328.03,114.71A68.9,68.9 0 0 1 327.47,113.51Z" fill="#D0CFC0"/>
<path d="M390.10,84.80L327.47,113.51A68.9,68.9 0 0 1 326.71,111.79Z" fill="#CACBBB"/>
<path d="M390.10,84.80L326.71,111.79A68.9,68.9 0 0 1 326.13,110.39Z" fill="#C4C8C0"/>
<path d="M390.10,84.80L326.13,110.39A68.9,68.9 0 0 1 325.75,109.41Z" fill="#BEC3BF"/>
<path d="M390.10,84.80L325.75,109.41A68.9,68.9 0 0 1 325.20,107.94Z" fill="#CDCDBF"/>
<path d="M390.10,84.80L325.20,107.94A68.9,68.9 0 0 1 324.83,106.87Z" fill="#BFC4BC"/>
<path d="M390.10,84.80L324.83,106.87A68.9,68.9 0 0 1 324.25,105.06Z" fill="#CDCDBF"/>
<path d="M390.10,84.80L324.25,105.06A68.9,68.9 0 0 1 324.07,104.47Z" fill="#D1CDBC"/>
<path d="M390.10,84.80L324.07,104.47A68.9,68.9 0 0 1 323.63,102.95Z" fill="#CACBBB"/>
<path d="M390.10,84.80L323.63,102.95A68.9,68.9 0 0 1 323.33,101.81Z" fill="#C9CBBF"/>
<path d="M390.10,84.80L323.33,101.81A68.9,68.9 0 0 1 323.16,101.12Z" fill="#D0CFC0"/>
<path d="M390.10,84.80L323.16,101.12A68.9,68.9 0 0 1 322.77,99.41Z" fill="#D1CDBC"/>
<path d="M390.10,84.80L322.77,99.41A68.9,68.9 0 0 1 322.39,97.57Z" fill="#C6CAC4"/>
<path d="M390.10,84.80L322.39,97.57A68.9,68.9 0 0 1 322.23,96.66Z" fill="#CACBBB"/>
<path d="M390.10,84.80L322.23,96.66A68.9,68.9 0 0 1 322.12,96.01Z" fill="#CDCDBF"/>
<path d="M390.10,84.80L322.12,96.01A68.9,68.9 0 0 1 321.99,95.21Z" fill="#C2C6C2"/>
<path d="M390.10,84.80L321.99,95.21A68.9,68.9 0 0 1 321.90,94.61Z" fill="#BFC4BC"/>
<path d="M390.10,84.80L321.90,94.61A68.9,68.9 0 0 1 321.66,92.75Z" fill="#CCCABA"/>
<path d="M390.10,84.80L321.66,92.75A68.9,68.9 0 0 1 321.55,91.73Z" fill="#C9CBBF"/>
<path d="M390.10,84.80L321.55,91.73A68.9,68.9 0 0 1 321.39,89.86Z" fill="#CACBBB"/>
<path d="M390.10,84.80L321.39,89.86A68.9,68.9 0 0 1 321.33,88.97Z" fill="#CDCDBF"/>
<path d="M390.10,84.80L321.33,88.97A68.9,68.9 0 0 1 321.29,88.37Z" fill="#D0CFC0"/>
<path d="M390.10,84.80L321.29,88.37A68.9,68.9 0 0 1 321.26,87.66Z" fill="#CACBBB"/>
<path d="M390.10,84.80L321.26,87.66A68.9,68.9 0 0 1 321.22,86.39Z" fill="#C4C8C0"/>
<path d="M390.10,84.80L321.22,86.39A68.9,68.9 0 0 1 321.20,85.46Z" fill="#C9CBBF"/>
<path d="M390.10,84.80L321.20,85.46A68.9,68.9 0 0 1 321.20,84.74Z" fill="#C3C6BA"/>
<path d="M390.10,84.80L321.20,84.74A68.9,68.9 0 0 1 321.21,83.95Z" fill="#C6CAC4"/>
<path d="M390.10,84.80L321.21,83.95A68.9,68.9 0 0 1 321.22,83.29Z" fill="#C9CBBF"/>
<path d="M390.10,84.80L321.22,83.29A68.9,68.9 0 0 1 321.25,82.29Z" fill="#D1CDBC"/>
<path d="M390.10,84.80L321.25,82.29A68.9,68.9 0 0 1 321.28,81.39Z" fill="#C6CAC4"/>
<path d="M390.10,84.80L321.28,81.39A68.9,68.9 0 0 1 321.40,79.52Z" fill="#CDCDBF"/>
<path d="M390.10,84.80L321.40,79.52A68.9,68.9 0 0 1 321.53,78.06Z" fill="#BEC3BF"/>
<path d="M390.10,84.80L321.53,78.06A68.9,68.9 0 0 1 321.71,76.43Z" fill="#C6CAC4"/>
<path d="M390.10,84.80L321.71,76.43A68.9,68.9 0 0 1 321.86,75.32Z" fill="#BFC4BC"/>
<path d="M390.10,84.80L321.86,75.32A68.9,68.9 0 0 1 322.09,73.78Z" fill="#C2C6C2"/>
<path d="M390.10,84.80L322.09,73.78A68.9,68.9 0 0 1 322.22,73.00Z" fill="#BEC3BF"/>
<path d="M390.10,84.80L322.22,73.00A68.9,68.9 0 0 1 322.48,71.60Z" fill="#CDCDBF"/>
<path d="M390.10,84.80L322.48,71.60A68.9,68.9 0 0 1 322.61,70.95Z" fill="#BEC3BF"/>
<path d="M390.10,84.80L322.61,70.95A68.9,68.9 0 0 1 322.99,69.21Z" fill="#D1CDBC"/>
<path d="M390.10,84.80L322.99,69.21A68.9,68.9 0 0 1 323.26,68.08Z" fill="#BEC3BF"/>
<path d="M390.10,84.80L323.26,68.08A68.9,68.9 0 0 1 323.69,66.46Z" fill="#CDCDBF"/>
<path d="M390.10,84.80L323.69,66.46A68.9,68.9 0 0 1 324.19,64.72Z" fill="#CCCABA"/>
<path d="M390.10,84.80L324.19,64.72A68.9,68.9 0 0 1 324.60,63.43Z" fill="#C9CBBF"/>
<path d="M390.10,84.80L324.60,63.43A68.9,68.9 0 0 1 325.14,61.83Z" fill="#C6CAC4"/>
<path d="M390.10,84.80L325.14,61.83A68.9,68.9 0 0 1 325.71,60.27Z" fill="#BEC3BF"/>
<path d="M390.10,84.80L325.71,60.27A68.9,68.9 0 0 1 326.26,58.87Z" fill="#BEC3BF"/>
<path d="M390.10,84.80L326.26,58.87A68.9,68.9 0 0 1 326.82,57.53Z" fill="#C3C6BA"/>
<path d="M390.10,84.80L326.82,57.53A68.9,68.9 0 0 1 327.08,56.95Z" fill="#CDCDBF"/>
<path d="M390.10,84.80L327.08,56.95A68.9,68.9 0 0 1 327.68,55.63Z" fill="#C3C6BA"/>
<path d="M390.10,84.80L327.68,55.63A68.9,68.9 0 0 1 328.15,54.64Z" fill="#C2C6C2"/>
<path d="M390.10,84.80L328.15,54.64A68.9,68.9 0 0 1 328.75,53.44Z" fill="#D1CDBC"/>
<path d="M390.10,84.80L328.75,53.44A68.9,68.9 0 0 1 329.04,52.88Z" fill="#CCCABA"/>
<path d="M390.10,84.80L329.04,52.88A68.9,68.9 0 0 1 329.75,51.56Z" fill="#C2C6C2"/>
<path d="M390.10,84.80L329.75,51.56A68.9,68.9 0 0 1 330.21,50.73Z" fill="#C2C6C2"/>
<path d="M390.10,84.80L330.21,50.73A68.9,68.9 0 0 1 331.05,49.30Z" fill="#BEC3BF"/>
<path d="M390.10,84.80L331.05,49.30A68.9,68.9 0 0 1 332.02,47.74Z" fill="#CCCABA"/>
<path d="M390.10,84.80L332.02,47.74A68.9,68.9 0 0 1 332.41,47.13Z" fill="#CCCABA"/>
<path d="M390.10,84.80L332.41,47.13A68.9,68.9 0 0 1 332.79,46.56Z" fill="#BEC3BF"/>
<path d="M390.10,84.80L332.79,46.56A68.9,68.9 0 0 1 333.48,45.54Z" fill="#C3C6BA"/>
<path d="M390.10,84.80L333.48,45.54A68.9,68.9 0 0 1 334.47,44.14Z" fill="#C4C8C0"/>
<path d="M390.10,84.80L334.47,44.14A68.9,68.9 0 0 1 335.41,42.89Z" fill="#C4C8C0"/>
<path d="M390.10,84.80L335.41,42.89A68.9,68.9 0 0 1 335.97,42.17Z" fill="#D1CDBC"/>
<path d="M390.10,84.80L335.97,42.17A68.9,68.9 0 0 1 337.16,40.70Z" fill="#C2C6C2"/>
<path d="M390.10,84.80L337.16,40.70A68.9,68.9 0 0 1 338.28,39.40Z" fill="#C3C6BA"/>
<path d="M390.10,84.80L338.28,39.40A68.9,68.9 0 0 1 339.10,38.47Z" fill="#D1CDBC"/>
<path d="M390.10,84.80L339.10,38.47A68.9,68.9 0 0 1 339.76,37.75Z" fill="#C9CBBF"/>
<path d="M390.10,84.80L339.76,37.75A68.9,68.9 0 0 1 340.74,36.73Z" fill="#D1CDBC"/>
<path d="M390.10,84.80L340.74,36.73A68.9,68.9 0 0 1 341.35,36.11Z" fill="#C6CAC4"/>
<path d="M390.10,84.80L341.35,36.11A68.9,68.9 0 0 1 341.91,35.55Z" fill="#CACBBB"/>
<path d="M390.10,84.80L341.91,35.55A68.9,68.9 0 0 1 342.97,34.54Z" fill="#BEC3BF"/>
<path d="M390.10,84.80L342.97,34.54A68.9,68.9 0 0 1 343.71,33.86Z" fill="#C6CAC4"/>
<path d="M390.10,84.80L343.71,33.86A68.9,68.9 0 0 1 344.29,33.34Z" fill="#C2C6C2"/>
<path d="M390.10,84.80L344.29,33.34A68.9,68.9 0 0 1 344.80,32.89Z" fill="#CACBBB"/>
<path d="M390.10,84.80L344.80,32.89A68.9,68.9 0 0 1 346.24,31.67Z" fill="#C3C6BA"/>
<path d="M390.10,84.80L346.24,31.67A68.9,68.9 0 0 1 347.42,30.71Z" fill="#D1CDBC"/>
<path d="M390.10,84.80L347.42,30.71A68.9,68.9 0 0 1 348.40,29.95Z" fill="#BEC3BF"/>
<path d="M390.10,84.80L348.40,29.95A68.9,68.9 0 0 1 349.43,29.18Z" fill="#C2C6C2"/>
<path d="M390.10,84.80L349.43,29.18A68.9,68.9 0 0 1 350.42,28.47Z" fill="#C3C6BA"/>
<path d="M390.10,84.80L350.42,28.47A68.9,68.9 0 0 1 352.00,27.39Z" fill="#CCCABA"/>
<path d="M390.10,84.80L352.00,27.39A68.9,68.9 0 0 1 352.73,26.92Z" fill="#C3C6BA"/>
<path d="M390.10,84.80L352.73,26.92A68.9,68.9 0 0 1 354.29,25.94Z" fill="#C9CBBF"/>
<path d="M390.10,84.80L354.29,25.94A68.9,68.9 0 0 1 355.13,25.43Z" fill="#C3C6BA"/>
<path d="M390.10,84.80L355.13,25.43A68.9,68.9 0 0 1 356.59,24.60Z" fill="#C2C6C2"/>
<path d="M390.10,84.80L356.59,24.60A68.9,68.9 0 0 1 358.28,23.69Z" fill="#D0CFC0"/>
<path d="M390.10,84.80L358.28,23.69A68.9,68.9 0 0 1 359.06,23.29Z" fill="#C4C8C0"/>
<path d="M390.10,84.80L359.06,23.29A68.9,68.9 0 0 1 359.69,22.97Z" fill="#C3C6BA"/>
<path d="M390.10,84.80L359.69,22.97A68.9,68.9 0 0 1 360.40,22.63Z" fill="#CCCABA"/>
<path d="M390.10,84.80L360.40,22.63A68.9,68.9 0 0 1 361.26,22.23Z" fill="#BFC4BC"/>
<path d="M390.10,84.80L361.26,22.23A68.9,68.9 0 0 1 361.96,21.91Z" fill="#D1CDBC"/>
<path d="M390.10,84.80L361.96,21.91A68.9,68.9 0 0 1 363.13,21.40Z" fill="#C3C6BA"/>
<path d="M390.10,84.80L363.13,21.40A68.9,68.9 0 0 1 364.55,20.81Z" fill="#C4C8C0"/>
<path d="M390.10,84.80L364.55,20.81A68.9,68.9 0 0 1 365.72,20.36Z" fill="#C2C6C2"/>
<path d="M390.10,84.80L365.72,20.36A68.9,68.9 0 0 1 366.78,19.97Z" fill="#CDCDBF"/>
<path d="M390.10,84.80L366.78,19.97A68.9,68.9 0 0 1 367.35,19.77Z" fill="#C2C6C2"/>
<path d="M390.10,84.80L367.35,19.77A68.9,68.9 0 0 1 368.77,19.28Z" fill="#D0CFC0"/>
<path d="M390.10,84.80L368.77,19.28A68.9,68.9 0 0 1 369.72,18.98Z" fill="#CDCDBF"/>
<path d="M390.10,84.80L369.72,18.98A68.9,68.9 0 0 1 370.83,18.65Z" fill="#D0CFC0"/>
<path d="M390.10,84.80L370.83,18.65A68.9,68.9 0 0 1 371.81,18.37Z" fill="#BFC4BC"/>
<path d="M390.10,84.80L371.81,18.37A68.9,68.9 0 0 1 372.39,18.21Z" fill="#BFC4BC"/>
<path d="M390.10,84.80L372.39,18.21A68.9,68.9 0 0 1 374.05,17.80Z" fill="#C3C6BA"/>
<path d="M390.10,84.80L374.05,17.80A68.9,68.9 0 0 1 375.85,17.39Z" fill="#C4C8C0"/>
<path d="M390.10,84.80L375.85,17.39A68.9,68.9 0 0 1 377.36,17.09Z" fill="#BEC3BF"/>
<path d="M390.10,84.80L377.36,17.09A68.9,68.9 0 0 1 378.33,16.91Z" fill="#BFC4BC"/>
<path d="M390.10,84.80L378.33,16.91A68.9,68.9 0 0 1 379.01,16.80Z" fill="#D0CFC0"/>
<path d="M390.10,84.80L379.01,16.80A68.9,68.9 0 0 1 380.91,16.52Z" fill="#C6CAC4"/>
<path d="M390.10,84.80L380.91,16.52A68.9,68.9 0 0 1 381.61,16.43Z" fill="#D0CFC0"/>
<path d="M390.10,84.80L381.61,16.43A68.9,68.9 0 0 1 383.20,16.25Z" fill="#C9CBBF"/>
<path d="M390.10,84.80L383.20,16.25A68.9,68.9 0 0 1 384.17,16.16Z" fill="#C9CBBF"/>
<path d="M390.10,84.80L384.17,16.16A68.9,68.9 0 0 1 385.87,16.03Z" fill="#CACBBB"/>
<path d="M390.10,84.80L385.87,16.03A68.9,68.9 0 0 1 387.31,15.96Z" fill="#CDCDBF"/>
<path d="M390.10,84.80L387.31,15.96A68.9,68.9 0 0 1 388.24,15.93Z" fill="#CACBBB"/>
<path d="M390.10,84.80L388.24,15.93A68.9,68.9 0 0 1 389.42,15.90Z" fill="#BFC4BC"/>
<path d="M390.10,84.80L389.42,15.90A68.9,68.9 0 0 1 390.10,15.90Z" fill="#BFC4BC"/>
<defs><radialGradient id="bup" cx="0.5" cy="0.5" r="0.5"><stop offset="0" stop-color="#fff" stop-opacity="0.85"/><stop offset="0.08" stop-color="#fff" stop-opacity="0.35"/><stop offset="0.5" stop-color="#fff" stop-opacity="0.12"/><stop offset="1" stop-color="#fff" stop-opacity="0"/></radialGradient><radialGradient id="bdn" cx="0.5" cy="0.5" r="0.5"><stop offset="0" stop-color="#8E9378" stop-opacity="0.5"/><stop offset="0.3" stop-color="#A0A48C" stop-opacity="0.18"/><stop offset="0.7" stop-color="#A0A48C" stop-opacity="0.04"/><stop offset="1" stop-color="#A0A48C" stop-opacity="0"/></radialGradient><clipPath id="bupc"><rect x="321.20000000000005" y="15.899999999999991" width="137.8" height="68.9"/></clipPath><clipPath id="bdnc"><rect x="321.20000000000005" y="84.8" width="137.8" height="68.9"/></clipPath></defs>
<circle cx="390.1" cy="84.8" r="68.9" fill="url(#bup)" clip-path="url(#bupc)"/>
<circle cx="390.1" cy="84.8" r="68.9" fill="url(#bdn)" clip-path="url(#bdnc)"/>
<line x1="390.11" y1="82.80" x2="390.34" y2="15.90" stroke="#F6F6F6" stroke-width="1.0"/>
<line x1="393.59" y1="81.22" x2="438.22" y2="35.49" stroke="#fff" stroke-width="1.3"/>
<line x1="383.97" y1="109.04" x2="373.20" y2="151.59" stroke="#4E5A78" stroke-width="0.55"/>
<rect x="69.6" y="211.6" width="81.70" height="82.00" fill="none" stroke="#EEEEF4" stroke-width="0.9"/>
<rect x="69.6" y="293.6" width="81.70" height="80.80" fill="none" stroke="#EEEEF4" stroke-width="0.9"/>
<rect x="69.6" y="374.4" width="81.70" height="82.10" fill="none" stroke="#EEEEF4" stroke-width="0.9"/>
<rect x="69.6" y="456.5" width="81.70" height="82.30" fill="none" stroke="#EEEEF4" stroke-width="0.9"/>
<rect x="176.0" y="211.6" width="79.60" height="82.00" fill="none" stroke="#EEEEF4" stroke-width="0.9"/>
<rect x="176.0" y="293.6" width="79.60" height="80.80" fill="none" stroke="#EEEEF4" stroke-width="0.9"/>
<rect x="176.0" y="374.4" width="79.60" height="82.10" fill="none" stroke="#EEEEF4" stroke-width="0.9"/>
<rect x="176.0" y="456.5" width="79.60" height="82.30" fill="none" stroke="#EEEEF4" stroke-width="0.9"/>
<rect x="255.6" y="211.6" width="80.50" height="82.00" fill="none" stroke="#EEEEF4" stroke-width="0.9"/>
<rect x="255.6" y="293.6" width="80.50" height="80.80" fill="none" stroke="#EEEEF4" stroke-width="0.9"/>
<rect x="255.6" y="374.4" width="80.50" height="82.10" fill="none" stroke="#EEEEF4" stroke-width="0.9"/>
<rect x="255.6" y="456.5" width="80.50" height="82.30" fill="none" stroke="#EEEEF4" stroke-width="0.9"/>
<rect x="351.9" y="211.6" width="81.50" height="82.00" fill="none" stroke="#EEEEF4" stroke-width="0.9"/>
<rect x="351.9" y="293.6" width="81.50" height="80.80" fill="none" stroke="#EEEEF4" stroke-width="0.9"/>
<rect x="351.9" y="374.4" width="81.50" height="82.10" fill="none" stroke="#EEEEF4" stroke-width="0.9"/>
<rect x="351.9" y="456.5" width="81.50" height="82.30" fill="none" stroke="#EEEEF4" stroke-width="0.9"/>
<circle cx="110.6" cy="252.2" r="37.0" fill="#B8B8B8"/>
<path d="M110.60,252.20L110.60,215.20A37.0,37.0 0 0 1 112.54,215.25Z" fill="#C9C9C9"/>
<path d="M110.60,252.20L112.54,215.25A37.0,37.0 0 0 1 114.47,215.40Z" fill="#2D4590"/>
<path d="M110.60,252.20L114.47,215.40A37.0,37.0 0 0 1 116.39,215.66Z" fill="#4A7CC8"/>
<path d="M110.60,252.20L116.39,215.66A37.0,37.0 0 0 1 118.29,216.01Z" fill="#F5DA7A"/>
<path d="M110.60,252.20L118.29,216.01A37.0,37.0 0 0 1 120.80,216.63Z" fill="#4A7CC8"/>
<path d="M110.60,252.20L120.80,216.63A37.0,37.0 0 0 1 123.25,217.43Z" fill="#A5C3EB"/>
<path d="M110.60,252.20L123.25,217.43A37.0,37.0 0 0 1 125.65,218.40Z" fill="#8C7A2E"/>
<path d="M110.60,252.20L125.65,218.40A37.0,37.0 0 0 1 128.54,219.84Z" fill="#2D4590"/>
<path d="M110.60,252.20L128.54,219.84A37.0,37.0 0 0 1 130.75,221.17Z" fill="#C9C9C9"/>
<path d="M110.60,252.20L130.75,221.17A37.0,37.0 0 0 1 132.87,222.65Z" fill="#2D4590"/>
<path d="M110.60,252.20L132.87,222.65A37.0,37.0 0 0 1 134.87,224.28Z" fill="#C9C9C9"/>
<path d="M110.60,252.20L134.87,224.28A37.0,37.0 0 0 1 136.30,225.58Z" fill="#C9A46A"/>
<path d="M110.60,252.20L136.30,225.58A37.0,37.0 0 0 1 138.10,227.44Z" fill="#A5A5A5"/>
<path d="M110.60,252.20L138.10,227.44A37.0,37.0 0 0 1 139.35,228.92Z" fill="#C9C9C9"/>
<path d="M110.60,252.20L139.35,228.92A37.0,37.0 0 0 1 140.53,230.45Z" fill="#96C35F"/>
<path d="M110.60,252.20L140.53,230.45A37.0,37.0 0 0 1 141.98,232.59Z" fill="#9E480E"/>
<path d="M110.60,252.20L141.98,232.59A37.0,37.0 0 0 1 143.27,234.83Z" fill="#E69155"/>
<path d="M110.60,252.20L143.27,234.83A37.0,37.0 0 0 1 144.40,237.15Z" fill="#F2B184"/>
<path d="M110.60,252.20L144.40,237.15A37.0,37.0 0 0 1 145.37,239.55Z" fill="#C9A46A"/>
<path d="M110.60,252.20L145.37,239.55A37.0,37.0 0 0 1 146.17,242.00Z" fill="#C9C9C9"/>
<path d="M110.60,252.20L146.17,242.00A37.0,37.0 0 0 1 147.32,247.69Z" fill="#D9D9D9"/>
<path d="M110.60,252.20L147.32,247.69A37.0,37.0 0 0 1 147.59,252.85Z" fill="#506E28"/>
<path d="M110.60,252.20L147.59,252.85A37.0,37.0 0 0 1 147.51,254.78Z" fill="#A5A5A5"/>
<path d="M110.60,252.20L147.51,254.78A37.0,37.0 0 0 1 146.92,259.26Z" fill="#2D4590"/>
<path d="M110.60,252.20L146.92,259.26A37.0,37.0 0 0 1 146.50,261.15Z" fill="#C9A46A"/>
<path d="M110.60,252.20L146.50,261.15A37.0,37.0 0 0 1 145.79,263.63Z" fill="#A5C3EB"/>
<path d="M110.60,252.20L145.79,263.63A37.0,37.0 0 0 1 145.14,265.46Z" fill="#F2C12E"/>
<path d="M110.60,252.20L145.14,265.46A37.0,37.0 0 0 1 143.86,268.42Z" fill="#2D4590"/>
<path d="M110.60,252.20L143.86,268.42A37.0,37.0 0 0 1 142.96,270.14Z" fill="#4A7CC8"/>
<path d="M110.60,252.20L142.96,270.14A37.0,37.0 0 0 1 140.53,273.95Z" fill="#506E28"/>
<path d="M110.60,252.20L140.53,273.95A37.0,37.0 0 0 1 138.94,275.98Z" fill="#4A7CC8"/>
<path d="M110.60,252.20L138.94,275.98A37.0,37.0 0 0 1 136.76,278.36Z" fill="#A5A5A5"/>
<path d="M110.60,252.20L136.76,278.36A37.0,37.0 0 0 1 134.38,280.54Z" fill="#A5C3EB"/>
<path d="M110.60,252.20L134.38,280.54A37.0,37.0 0 0 1 131.82,282.51Z" fill="#5A5A5A"/>
<path d="M110.60,252.20L131.82,282.51A37.0,37.0 0 0 1 129.10,284.24Z" fill="#4A7CC8"/>
<path d="M110.60,252.20L129.10,284.24A37.0,37.0 0 0 1 126.82,285.46Z" fill="#A5C3EB"/>
<path d="M110.60,252.20L126.82,285.46A37.0,37.0 0 0 1 124.46,286.51Z" fill="#C9C9C9"/>
<path d="M110.60,252.20L124.46,286.51A37.0,37.0 0 0 1 123.25,286.97Z" fill="#E69155"/>
<path d="M110.60,252.20L123.25,286.97A37.0,37.0 0 0 1 120.18,287.94Z" fill="#A5A5A5"/>
<path d="M110.60,252.20L120.18,287.94A37.0,37.0 0 0 1 116.39,288.74Z" fill="#F2C12E"/>
<path d="M110.60,252.20L116.39,288.74A37.0,37.0 0 0 1 102.28,288.25Z" fill="#344E96"/>
<path d="M110.60,252.20L102.28,288.25A37.0,37.0 0 0 1 81.85,275.48Z" fill="#506E28"/>
<path d="M110.60,252.20L81.85,275.48A37.0,37.0 0 0 1 80.67,273.95Z" fill="#E69155"/>
<path d="M110.60,252.20L80.67,273.95A37.0,37.0 0 0 1 79.57,272.35Z" fill="#4A7CC8"/>
<path d="M110.60,252.20L79.57,272.35A37.0,37.0 0 0 1 78.56,270.70Z" fill="#9E480E"/>
<path d="M110.60,252.20L78.56,270.70A37.0,37.0 0 0 1 76.80,267.25Z" fill="#2D4590"/>
<path d="M110.60,252.20L76.80,267.25A37.0,37.0 0 0 1 76.06,265.46Z" fill="#A5A5A5"/>
<path d="M110.60,252.20L76.06,265.46A37.0,37.0 0 0 1 73.74,255.42Z" fill="#96C35F"/>
<path d="M110.60,252.20L73.74,255.42A37.0,37.0 0 0 1 73.65,254.14Z" fill="#5A5A5A"/>
<path d="M110.60,252.20L73.65,254.14A37.0,37.0 0 0 1 73.60,252.20Z" fill="#2D4590"/>
<path d="M110.60,252.20L73.60,252.20A37.0,37.0 0 0 1 76.54,237.74Z" fill="#E69155"/>
<path d="M110.60,252.20L76.54,237.74A37.0,37.0 0 0 1 80.29,230.98Z" fill="#A5C3EB"/>
<path d="M110.60,252.20L80.29,230.98A37.0,37.0 0 0 1 81.44,229.42Z" fill="#F2C12E"/>
<path d="M110.60,252.20L81.44,229.42A37.0,37.0 0 0 1 83.10,227.44Z" fill="#A7BBE8"/>
<path d="M110.60,252.20L83.10,227.44A37.0,37.0 0 0 1 84.44,226.04Z" fill="#E69155"/>
<path d="M110.60,252.20L84.44,226.04A37.0,37.0 0 0 1 85.84,224.70Z" fill="#C9C9C9"/>
<path d="M110.60,252.20L85.84,224.70A37.0,37.0 0 0 1 89.38,221.89Z" fill="#2D4590"/>
<path d="M110.60,252.20L89.38,221.89A37.0,37.0 0 0 1 90.99,220.82Z" fill="#96C35F"/>
<path d="M110.60,252.20L90.99,220.82A37.0,37.0 0 0 1 92.66,219.84Z" fill="#8C7A2E"/>
<path d="M110.60,252.20L92.66,219.84A37.0,37.0 0 0 1 94.38,218.94Z" fill="#A5C3EB"/>
<path d="M110.60,252.20L94.38,218.94A37.0,37.0 0 0 1 96.74,217.89Z" fill="#F2B184"/>
<path d="M110.60,252.20L96.74,217.89A37.0,37.0 0 0 1 98.55,217.22Z" fill="#C9C9C9"/>
<path d="M110.60,252.20L98.55,217.22A37.0,37.0 0 0 1 100.40,216.63Z" fill="#4A7CC8"/>
<path d="M110.60,252.20L100.40,216.63A37.0,37.0 0 0 1 102.91,216.01Z" fill="#F2C12E"/>
<path d="M110.60,252.20L102.91,216.01A37.0,37.0 0 0 1 106.09,215.48Z" fill="#8C7A2E"/>
<path d="M110.60,252.20L106.09,215.48A37.0,37.0 0 0 1 108.66,215.25Z" fill="#C9C9C9"/>
<path d="M110.60,252.20L108.66,215.25A37.0,37.0 0 0 1 110.60,215.20Z" fill="#A5A5A5"/>
<circle cx="216.65" cy="252.2" r="37.0" fill="#B8B8B8"/>
<path d="M216.65,252.20L216.65,215.20A37.0,37.0 0 0 1 218.59,215.25Z" fill="#C9C9C9"/>
<path d="M216.65,252.20L218.59,215.25A37.0,37.0 0 0 1 221.16,215.48Z" fill="#A5A5A5"/>
<path d="M216.65,252.20L221.16,215.48A37.0,37.0 0 0 1 224.34,216.01Z" fill="#F2CC48"/>
<path d="M216.65,252.20L224.34,216.01A37.0,37.0 0 0 1 226.23,216.46Z" fill="#A5A5A5"/>
<path d="M216.65,252.20L226.23,216.46A37.0,37.0 0 0 1 237.34,221.53Z" fill="#8C7A2E"/>
<path d="M216.65,252.20L237.34,221.53A37.0,37.0 0 0 1 238.40,222.27Z" fill="#E69155"/>
<path d="M216.65,252.20L238.40,222.27A37.0,37.0 0 0 1 241.41,224.70Z" fill="#2D4590"/>
<path d="M216.65,252.20L241.41,224.70A37.0,37.0 0 0 1 243.27,226.50Z" fill="#5A5A5A"/>
<path d="M216.65,252.20L243.27,226.50A37.0,37.0 0 0 1 244.99,228.42Z" fill="#C9C9C9"/>
<path d="M216.65,252.20L244.99,228.42A37.0,37.0 0 0 1 246.58,230.45Z" fill="#C9A46A"/>
<path d="M216.65,252.20L246.58,230.45A37.0,37.0 0 0 1 248.03,232.59Z" fill="#C9C9C9"/>
<path d="M216.65,252.20L248.03,232.59A37.0,37.0 0 0 1 250.45,237.15Z" fill="#4A7CC8"/>
<path d="M216.65,252.20L250.45,237.15A37.0,37.0 0 0 1 250.96,238.34Z" fill="#F5DA7A"/>
<path d="M216.65,252.20L250.96,238.34A37.0,37.0 0 0 1 233.45,285.17Z" fill="#344E96"/>
<path d="M216.65,252.20L233.45,285.17A37.0,37.0 0 0 1 230.51,286.51Z" fill="#A7BBE8"/>
<path d="M216.65,252.20L230.51,286.51A37.0,37.0 0 0 1 226.23,287.94Z" fill="#A5C3EB"/>
<path d="M216.65,252.20L226.23,287.94A37.0,37.0 0 0 1 224.97,288.25Z" fill="#F2C12E"/>
<path d="M216.65,252.20L224.97,288.25A37.0,37.0 0 0 1 222.44,288.74Z" fill="#A5A5A5"/>
<path d="M216.65,252.20L222.44,288.74A37.0,37.0 0 0 1 219.87,289.06Z" fill="#A5C3EB"/>
<path d="M216.65,252.20L219.87,289.06A37.0,37.0 0 0 1 187.90,275.48Z" fill="#344E96"/>
<path d="M216.65,252.20L187.90,275.48A37.0,37.0 0 0 1 186.34,273.42Z" fill="#96C35F"/>
<path d="M216.65,252.20L186.34,273.42A37.0,37.0 0 0 1 185.27,271.81Z" fill="#4A7CC8"/>
<path d="M216.65,252.20L185.27,271.81A37.0,37.0 0 0 1 180.75,261.15Z" fill="#506E28"/>
<path d="M216.65,252.20L180.75,261.15A37.0,37.0 0 0 1 180.33,259.26Z" fill="#F2B184"/>
<path d="M216.65,252.20L180.33,259.26A37.0,37.0 0 0 1 179.85,256.07Z" fill="#263878"/>
<path d="M216.65,252.20L179.85,256.07A37.0,37.0 0 0 1 179.70,254.14Z" fill="#9E480E"/>
<path d="M216.65,252.20L179.70,254.14A37.0,37.0 0 0 1 182.11,238.94Z" fill="#96C35F"/>
<path d="M216.65,252.20L182.11,238.94A37.0,37.0 0 0 1 183.39,235.98Z" fill="#5A5A5A"/>
<path d="M216.65,252.20L183.39,235.98A37.0,37.0 0 0 1 185.98,231.51Z" fill="#2D4590"/>
<path d="M216.65,252.20L185.98,231.51A37.0,37.0 0 0 1 198.71,219.84Z" fill="#E69155"/>
<path d="M216.65,252.20L198.71,219.84A37.0,37.0 0 0 1 207.07,216.46Z" fill="#A5C3EB"/>
<path d="M216.65,252.20L207.07,216.46A37.0,37.0 0 0 1 208.33,216.15Z" fill="#F2C12E"/>
<path d="M216.65,252.20L208.33,216.15A37.0,37.0 0 0 1 211.50,215.56Z" fill="#A5C3EB"/>
<path d="M216.65,252.20L211.50,215.56A37.0,37.0 0 0 1 214.07,215.29Z" fill="#A5A5A5"/>
<path d="M216.65,252.20L214.07,215.29A37.0,37.0 0 0 1 216.65,215.20Z" fill="#8C7A2E"/>
<circle cx="294.7" cy="252.2" r="37.0" fill="#B8B8B8"/>
<path d="M294.70,252.20L294.70,215.20A37.0,37.0 0 0 1 297.28,215.29Z" fill="#A5A5A5"/>
<path d="M294.70,252.20L297.28,215.29A37.0,37.0 0 0 1 299.85,215.56Z" fill="#8C7A2E"/>
<path d="M294.70,252.20L299.85,215.56A37.0,37.0 0 0 1 302.39,216.01Z" fill="#C9C9C9"/>
<path d="M294.70,252.20L302.39,216.01A37.0,37.0 0 0 1 304.90,216.63Z" fill="#96C35F"/>
<path d="M294.70,252.20L304.90,216.63A37.0,37.0 0 0 1 307.35,217.43Z" fill="#A5A5A5"/>
<path d="M294.70,252.20L307.35,217.43A37.0,37.0 0 0 1 309.75,218.40Z" fill="#506E28"/>
<path d="M294.70,252.20L309.75,218.40A37.0,37.0 0 0 1 312.07,219.53Z" fill="#C9C9C9"/>
<path d="M294.70,252.20L312.07,219.53A37.0,37.0 0 0 1 314.31,220.82Z" fill="#506E28"/>
<path d="M294.70,252.20L314.31,220.82A37.0,37.0 0 0 1 315.92,221.89Z" fill="#A5A5A5"/>
<path d="M294.70,252.20L315.92,221.89A37.0,37.0 0 0 1 317.98,223.45Z" fill="#4A7CC8"/>
<path d="M294.70,252.20L317.98,223.45A37.0,37.0 0 0 1 319.93,225.14Z" fill="#F2C12E"/>
<path d="M294.70,252.20L319.93,225.14A37.0,37.0 0 0 1 321.32,226.50Z" fill="#C9C9C9"/>
<path d="M294.70,252.20L321.32,226.50A37.0,37.0 0 0 1 327.37,234.83Z" fill="#4A7CC8"/>
<path d="M294.70,252.20L327.37,234.83A37.0,37.0 0 0 1 327.96,235.98Z" fill="#C9A46A"/>
<path d="M294.70,252.20L327.96,235.98A37.0,37.0 0 0 1 324.63,273.95Z" fill="#344E96"/>
<path d="M294.70,252.20L324.63,273.95A37.0,37.0 0 0 1 323.04,275.98Z" fill="#E69155"/>
<path d="M294.70,252.20L323.04,275.98A37.0,37.0 0 0 1 321.32,277.90Z" fill="#F2B184"/>
<path d="M294.70,252.20L321.32,277.90A37.0,37.0 0 0 1 316.97,281.75Z" fill="#A5C3EB"/>
<path d="M294.70,252.20L316.97,281.75A37.0,37.0 0 0 1 313.20,284.24Z" fill="#C9C9C9"/>
<path d="M294.70,252.20L313.20,284.24A37.0,37.0 0 0 1 268.54,278.36Z" fill="#344E96"/>
<path d="M294.70,252.20L268.54,278.36A37.0,37.0 0 0 1 263.67,272.35Z" fill="#96C35F"/>
<path d="M294.70,252.20L263.67,272.35A37.0,37.0 0 0 1 258.96,261.78Z" fill="#506E28"/>
<path d="M294.70,252.20L258.96,261.78A37.0,37.0 0 0 1 258.51,259.89Z" fill="#A5C3EB"/>
<path d="M294.70,252.20L258.51,259.89A37.0,37.0 0 0 1 258.06,257.35Z" fill="#263878"/>
<path d="M294.70,252.20L258.06,257.35A37.0,37.0 0 0 1 257.84,255.42Z" fill="#9E480E"/>
<path d="M294.70,252.20L257.84,255.42A37.0,37.0 0 0 1 261.17,236.56Z" fill="#96C35F"/>
<path d="M294.70,252.20L261.17,236.56A37.0,37.0 0 0 1 263.32,232.59Z" fill="#2D4590"/>
<path d="M294.70,252.20L263.32,232.59A37.0,37.0 0 0 1 275.64,220.48Z" fill="#E69155"/>
<path d="M294.70,252.20L275.64,220.48A37.0,37.0 0 0 1 285.12,216.46Z" fill="#A5C3EB"/>
<path d="M294.70,252.20L285.12,216.46A37.0,37.0 0 0 1 287.64,215.88Z" fill="#F2C12E"/>
<path d="M294.70,252.20L287.64,215.88A37.0,37.0 0 0 1 288.91,215.66Z" fill="#C9C9C9"/>
<path d="M294.70,252.20L288.91,215.66A37.0,37.0 0 0 1 293.41,215.22Z" fill="#F2C12E"/>
<path d="M294.70,252.20L293.41,215.22A37.0,37.0 0 0 1 294.70,215.20Z" fill="#A5A5A5"/>
<circle cx="392.95" cy="252.2" r="37.0" fill="#B8B8B8"/>
<path d="M392.95,252.20L392.95,215.20A37.0,37.0 0 0 1 394.89,215.25Z" fill="#C9C9C9"/>
<path d="M392.95,252.20L394.89,215.25A37.0,37.0 0 0 1 396.82,215.40Z" fill="#A5C3EB"/>
<path d="M392.95,252.20L396.82,215.40A37.0,37.0 0 0 1 400.64,216.01Z" fill="#F2C12E"/>
<path d="M392.95,252.20L400.64,216.01A37.0,37.0 0 0 1 402.53,216.46Z" fill="#A5A5A5"/>
<path d="M392.95,252.20L402.53,216.46A37.0,37.0 0 0 1 416.73,223.86Z" fill="#8C7A2E"/>
<path d="M392.95,252.20L416.73,223.86A37.0,37.0 0 0 1 418.65,225.58Z" fill="#E69155"/>
<path d="M392.95,252.20L418.65,225.58A37.0,37.0 0 0 1 420.45,227.44Z" fill="#F2C12E"/>
<path d="M392.95,252.20L420.45,227.44A37.0,37.0 0 0 1 422.11,229.42Z" fill="#A5C3EB"/>
<path d="M392.95,252.20L422.11,229.42A37.0,37.0 0 0 1 423.62,231.51Z" fill="#2D4590"/>
<path d="M392.95,252.20L423.62,231.51A37.0,37.0 0 0 1 424.99,233.70Z" fill="#C9A46A"/>
<path d="M392.95,252.20L424.99,233.70A37.0,37.0 0 0 1 426.21,235.98Z" fill="#C9C9C9"/>
<path d="M392.95,252.20L426.21,235.98A37.0,37.0 0 0 1 427.01,237.74Z" fill="#96C35F"/>
<path d="M392.95,252.20L427.01,237.74A37.0,37.0 0 0 1 427.72,239.55Z" fill="#A5A5A5"/>
<path d="M392.95,252.20L427.72,239.55A37.0,37.0 0 0 1 429.00,243.88Z" fill="#4A7CC8"/>
<path d="M392.95,252.20L429.00,243.88A37.0,37.0 0 0 1 429.59,247.05Z" fill="#F2C12E"/>
<path d="M392.95,252.20L429.59,247.05A37.0,37.0 0 0 1 429.81,248.98Z" fill="#C9C9C9"/>
<path d="M392.95,252.20L429.81,248.98A37.0,37.0 0 0 1 405.60,286.97Z" fill="#344E96"/>
<path d="M392.95,252.20L405.60,286.97A37.0,37.0 0 0 1 403.15,287.77Z" fill="#E69155"/>
<path d="M392.95,252.20L403.15,287.77A37.0,37.0 0 0 1 396.82,289.00Z" fill="#A5C3EB"/>
<path d="M392.95,252.20L396.82,289.00A37.0,37.0 0 0 1 393.60,289.19Z" fill="#C9C9C9"/>
<path d="M392.95,252.20L393.60,289.19A37.0,37.0 0 0 1 385.26,288.39Z" fill="#344E96"/>
<path d="M392.95,252.20L385.26,288.39A37.0,37.0 0 0 1 384.00,288.10Z" fill="#C9C9C9"/>
<path d="M392.95,252.20L384.00,288.10A37.0,37.0 0 0 1 365.45,276.96Z" fill="#344E96"/>
<path d="M392.95,252.20L365.45,276.96A37.0,37.0 0 0 1 360.91,270.70Z" fill="#96C35F"/>
<path d="M392.95,252.20L360.91,270.70A37.0,37.0 0 0 1 357.05,261.15Z" fill="#506E28"/>
<path d="M392.95,252.20L357.05,261.15A37.0,37.0 0 0 1 356.41,257.99Z" fill="#C9A46A"/>
<path d="M392.95,252.20L356.41,257.99A37.0,37.0 0 0 1 355.96,252.85Z" fill="#263878"/>
<path d="M392.95,252.20L355.96,252.85A37.0,37.0 0 0 1 356.04,249.62Z" fill="#9E480E"/>
<path d="M392.95,252.20L356.04,249.62A37.0,37.0 0 0 1 360.28,234.83Z" fill="#96C35F"/>
<path d="M392.95,252.20L360.28,234.83A37.0,37.0 0 0 1 361.92,232.05Z" fill="#2D4590"/>
<path d="M392.95,252.20L361.92,232.05A37.0,37.0 0 0 1 374.45,220.16Z" fill="#E69155"/>
<path d="M392.95,252.20L374.45,220.16A37.0,37.0 0 0 1 383.37,216.46Z" fill="#A5C3EB"/>
<path d="M392.95,252.20L383.37,216.46A37.0,37.0 0 0 1 385.89,215.88Z" fill="#F2C12E"/>
<path d="M392.95,252.20L385.89,215.88A37.0,37.0 0 0 1 387.80,215.56Z" fill="#263878"/>
<path d="M392.95,252.20L387.80,215.56A37.0,37.0 0 0 1 390.37,215.29Z" fill="#A5A5A5"/>
<path d="M392.95,252.20L390.37,215.29A37.0,37.0 0 0 1 392.95,215.20Z" fill="#C9C9C9"/>
<circle cx="110.6" cy="335.1" r="37.0" fill="#B8B8B8"/>
<path d="M110.60,335.10L110.60,298.10A37.0,37.0 0 0 1 113.82,298.24Z" fill="#A5A5A5"/>
<path d="M110.60,335.10L113.82,298.24A37.0,37.0 0 0 1 117.02,298.66Z" fill="#C9C9C9"/>
<path d="M110.60,335.10L117.02,298.66A37.0,37.0 0 0 1 120.18,299.36Z" fill="#A5C3EB"/>
<path d="M110.60,335.10L120.18,299.36A37.0,37.0 0 0 1 122.65,300.12Z" fill="#8FAADC"/>
<path d="M110.60,335.10L122.65,300.12A37.0,37.0 0 0 1 125.06,301.04Z" fill="#A5A5A5"/>
<path d="M110.60,335.10L125.06,301.04A37.0,37.0 0 0 1 127.97,302.43Z" fill="#A5C3EB"/>
<path d="M110.60,335.10L127.97,302.43A37.0,37.0 0 0 1 130.75,304.07Z" fill="#C9C9C9"/>
<path d="M110.60,335.10L130.75,304.07A37.0,37.0 0 0 1 136.30,308.48Z" fill="#D9D9D9"/>
<path d="M110.60,335.10L136.30,308.48A37.0,37.0 0 0 1 137.66,309.87Z" fill="#2D4590"/>
<path d="M110.60,335.10L137.66,309.87A37.0,37.0 0 0 1 139.76,312.32Z" fill="#C9C9C9"/>
<path d="M110.60,335.10L139.76,312.32A37.0,37.0 0 0 1 141.63,314.95Z" fill="#A5C3EB"/>
<path d="M110.60,335.10L141.63,314.95A37.0,37.0 0 0 1 143.27,317.73Z" fill="#F2C12E"/>
<path d="M110.60,335.10L143.27,317.73A37.0,37.0 0 0 1 144.13,319.46Z" fill="#F2B184"/>
<path d="M110.60,335.10L144.13,319.46A37.0,37.0 0 0 1 144.91,321.24Z" fill="#A5A5A5"/>
<path d="M110.60,335.10L144.91,321.24A37.0,37.0 0 0 1 145.58,323.05Z" fill="#C9C9C9"/>
<path d="M110.60,335.10L145.58,323.05A37.0,37.0 0 0 1 146.50,326.15Z" fill="#4A7CC8"/>
<path d="M110.60,335.10L146.50,326.15A37.0,37.0 0 0 1 147.24,329.95Z" fill="#A9D18E"/>
<path d="M110.60,335.10L147.24,329.95A37.0,37.0 0 0 1 147.51,332.52Z" fill="#A5A5A5"/>
<path d="M110.60,335.10L147.51,332.52A37.0,37.0 0 0 1 147.59,334.45Z" fill="#C9C9C9"/>
<path d="M110.60,335.10L147.59,334.45A37.0,37.0 0 0 1 147.46,338.32Z" fill="#F2C12E"/>
<path d="M110.60,335.10L147.46,338.32A37.0,37.0 0 0 1 147.14,340.89Z" fill="#96C35F"/>
<path d="M110.60,335.10L147.14,340.89A37.0,37.0 0 0 1 146.65,343.42Z" fill="#68A444"/>
<path d="M110.60,335.10L146.65,343.42A37.0,37.0 0 0 1 145.37,347.75Z" fill="#A5A5A5"/>
<path d="M110.60,335.10L145.37,347.75A37.0,37.0 0 0 1 143.27,352.47Z" fill="#4A7CC8"/>
<path d="M110.60,335.10L143.27,352.47A37.0,37.0 0 0 1 138.10,359.86Z" fill="#F2B184"/>
<path d="M110.60,335.10L138.10,359.86A37.0,37.0 0 0 1 135.83,362.16Z" fill="#A5A5A5"/>
<path d="M110.60,335.10L135.83,362.16A37.0,37.0 0 0 1 133.38,364.26Z" fill="#A5C3EB"/>
<path d="M110.60,335.10L133.38,364.26A37.0,37.0 0 0 1 131.82,365.41Z" fill="#A5A5A5"/>
<path d="M110.60,335.10L131.82,365.41A37.0,37.0 0 0 1 129.10,367.14Z" fill="#C9C9C9"/>
<path d="M110.60,335.10L129.10,367.14A37.0,37.0 0 0 1 122.65,370.08Z" fill="#F2C12E"/>
<path d="M110.60,335.10L122.65,370.08A37.0,37.0 0 0 1 120.18,370.84Z" fill="#C9C9C9"/>
<path d="M110.60,335.10L120.18,370.84A37.0,37.0 0 0 1 115.75,371.74Z" fill="#F2B184"/>
<path d="M110.60,335.10L115.75,371.74A37.0,37.0 0 0 1 113.18,372.01Z" fill="#A5A5A5"/>
<path d="M110.60,335.10L113.18,372.01A37.0,37.0 0 0 1 109.95,372.09Z" fill="#C9C9C9"/>
<path d="M110.60,335.10L109.95,372.09A37.0,37.0 0 0 1 104.18,371.54Z" fill="#506E28"/>
<path d="M110.60,335.10L104.18,371.54A37.0,37.0 0 0 1 101.65,371.00Z" fill="#A5A5A5"/>
<path d="M110.60,335.10L101.65,371.00A37.0,37.0 0 0 1 99.78,370.48Z" fill="#2D4590"/>
<path d="M110.60,335.10L99.78,370.48A37.0,37.0 0 0 1 97.34,369.64Z" fill="#F2C12E"/>
<path d="M110.60,335.10L97.34,369.64A37.0,37.0 0 0 1 94.96,368.63Z" fill="#2D4590"/>
<path d="M110.60,335.10L94.96,368.63A37.0,37.0 0 0 1 92.10,367.14Z" fill="#A5C3EB"/>
<path d="M110.60,335.10L92.10,367.14A37.0,37.0 0 0 1 89.91,365.77Z" fill="#4A7CC8"/>
<path d="M110.60,335.10L89.91,365.77A37.0,37.0 0 0 1 84.44,361.26Z" fill="#A7BBE8"/>
<path d="M110.60,335.10L84.44,361.26A37.0,37.0 0 0 1 83.10,359.86Z" fill="#C9A46A"/>
<path d="M110.60,335.10L83.10,359.86A37.0,37.0 0 0 1 81.44,357.88Z" fill="#A5A5A5"/>
<path d="M110.60,335.10L81.44,357.88A37.0,37.0 0 0 1 78.56,353.60Z" fill="#96C35F"/>
<path d="M110.60,335.10L78.56,353.60A37.0,37.0 0 0 1 76.29,348.96Z" fill="#506E28"/>
<path d="M110.60,335.10L76.29,348.96A37.0,37.0 0 0 1 75.41,346.53Z" fill="#C9C9C9"/>
<path d="M110.60,335.10L75.41,346.53A37.0,37.0 0 0 1 74.41,342.79Z" fill="#263878"/>
<path d="M110.60,335.10L74.41,342.79A37.0,37.0 0 0 1 74.06,340.89Z" fill="#F2B184"/>
<path d="M110.60,335.10L74.06,340.89A37.0,37.0 0 0 1 73.60,335.10Z" fill="#A5A5A5"/>
<path d="M110.60,335.10L73.60,335.10A37.0,37.0 0 0 1 73.69,332.52Z" fill="#96C35F"/>
<path d="M110.60,335.10L73.69,332.52A37.0,37.0 0 0 1 74.06,329.31Z" fill="#A7BBE8"/>
<path d="M110.60,335.10L74.06,329.31A37.0,37.0 0 0 1 74.41,327.41Z" fill="#C9A46A"/>
<path d="M110.60,335.10L74.41,327.41A37.0,37.0 0 0 1 74.86,325.52Z" fill="#C9C9C9"/>
<path d="M110.60,335.10L74.86,325.52A37.0,37.0 0 0 1 81.05,312.83Z" fill="#F2C12E"/>
<path d="M110.60,335.10L81.05,312.83A37.0,37.0 0 0 1 82.68,310.83Z" fill="#A7BBE8"/>
<path d="M110.60,335.10L82.68,310.83A37.0,37.0 0 0 1 96.14,301.04Z" fill="#4A7CC8"/>
<path d="M110.60,335.10L96.14,301.04A37.0,37.0 0 0 1 108.02,298.19Z" fill="#8FAADC"/>
<path d="M110.60,335.10L108.02,298.19A37.0,37.0 0 0 1 110.60,298.10Z" fill="#A5A5A5"/>
<circle cx="216.65" cy="335.1" r="37.0" fill="#B8B8B8"/>
<path d="M216.65,335.10L216.65,298.10A37.0,37.0 0 0 1 217.94,298.12Z" fill="#C9C9C9"/>
<path d="M216.65,335.10L217.94,298.12A37.0,37.0 0 0 1 219.23,298.19Z" fill="#2D4590"/>
<path d="M216.65,335.10L219.23,298.19A37.0,37.0 0 0 1 221.16,298.38Z" fill="#C9C9C9"/>
<path d="M216.65,335.10L221.16,298.38A37.0,37.0 0 0 1 223.71,298.78Z" fill="#F2C12E"/>
<path d="M216.65,335.10L223.71,298.78A37.0,37.0 0 0 1 224.97,299.05Z" fill="#C9C9C9"/>
<path d="M216.65,335.10L224.97,299.05A37.0,37.0 0 0 1 226.85,299.53Z" fill="#4A7CC8"/>
<path d="M216.65,335.10L226.85,299.53A37.0,37.0 0 0 1 227.47,299.72Z" fill="#A5C3EB"/>
<path d="M216.65,335.10L227.47,299.72A37.0,37.0 0 0 1 253.29,329.95Z" fill="#C8A032"/>
<path d="M216.65,335.10L253.29,329.95A37.0,37.0 0 0 1 253.56,332.52Z" fill="#A5C3EB"/>
<path d="M216.65,335.10L253.56,332.52A37.0,37.0 0 0 1 253.65,335.10Z" fill="#C9C9C9"/>
<path d="M216.65,335.10L253.65,335.10A37.0,37.0 0 0 1 253.51,338.32Z" fill="#A7BBE8"/>
<path d="M216.65,335.10L253.51,338.32A37.0,37.0 0 0 1 253.09,341.52Z" fill="#96C35F"/>
<path d="M216.65,335.10L253.09,341.52A37.0,37.0 0 0 1 252.55,344.05Z" fill="#A5C3EB"/>
<path d="M216.65,335.10L252.55,344.05A37.0,37.0 0 0 1 251.84,346.53Z" fill="#96C35F"/>
<path d="M216.65,335.10L251.84,346.53A37.0,37.0 0 0 1 250.45,350.15Z" fill="#A7BBE8"/>
<path d="M216.65,335.10L250.45,350.15A37.0,37.0 0 0 1 249.01,353.04Z" fill="#2D4590"/>
<path d="M216.65,335.10L249.01,353.04A37.0,37.0 0 0 1 248.03,354.71Z" fill="#C9C9C9"/>
<path d="M216.65,335.10L248.03,354.71A37.0,37.0 0 0 1 243.71,360.33Z" fill="#506E28"/>
<path d="M216.65,335.10L243.71,360.33A37.0,37.0 0 0 1 241.41,362.60Z" fill="#A5C3EB"/>
<path d="M216.65,335.10L241.41,362.60A37.0,37.0 0 0 1 238.92,364.65Z" fill="#263878"/>
<path d="M216.65,335.10L238.92,364.65A37.0,37.0 0 0 1 236.80,366.13Z" fill="#A5A5A5"/>
<path d="M216.65,335.10L236.80,366.13A37.0,37.0 0 0 1 235.15,367.14Z" fill="#96C35F"/>
<path d="M216.65,335.10L235.15,367.14A37.0,37.0 0 0 1 227.47,370.48Z" fill="#F5DA7A"/>
<path d="M216.65,335.10L227.47,370.48A37.0,37.0 0 0 1 224.34,371.29Z" fill="#A5A5A5"/>
<path d="M216.65,335.10L224.34,371.29A37.0,37.0 0 1 1 215.10,298.13Z" fill="#F2CC48"/>
<path d="M216.65,335.10L215.10,298.13A37.0,37.0 0 0 1 216.65,298.10Z" fill="#C9C9C9"/>
<circle cx="294.7" cy="335.1" r="37.0" fill="#B8B8B8"/>
<path d="M294.70,335.10L294.70,298.10A37.0,37.0 0 0 1 295.99,298.12Z" fill="#C9C9C9"/>
<path d="M294.70,335.10L295.99,298.12A37.0,37.0 0 0 1 297.28,298.19Z" fill="#A5A5A5"/>
<path d="M294.70,335.10L297.28,298.19A37.0,37.0 0 0 1 312.64,302.74Z" fill="#C8A032"/>
<path d="M294.70,335.10L312.64,302.74A37.0,37.0 0 0 1 313.76,303.38Z" fill="#96C35F"/>
<path d="M294.70,335.10L313.76,303.38A37.0,37.0 0 0 1 314.85,304.07Z" fill="#A5C3EB"/>
<path d="M294.70,335.10L314.85,304.07A37.0,37.0 0 0 1 316.97,305.55Z" fill="#2D4590"/>
<path d="M294.70,335.10L316.97,305.55A37.0,37.0 0 0 1 324.25,312.83Z" fill="#A5A5A5"/>
<path d="M294.70,335.10L324.25,312.83A37.0,37.0 0 0 1 326.08,315.49Z" fill="#4A7CC8"/>
<path d="M294.70,335.10L326.08,315.49A37.0,37.0 0 0 1 327.67,318.30Z" fill="#96C35F"/>
<path d="M294.70,335.10L327.67,318.30A37.0,37.0 0 0 1 330.89,327.41Z" fill="#A7BBE8"/>
<path d="M294.70,335.10L330.89,327.41A37.0,37.0 0 0 1 331.42,330.59Z" fill="#C9C9C9"/>
<path d="M294.70,335.10L331.42,330.59A37.0,37.0 0 0 1 331.68,333.81Z" fill="#96C35F"/>
<path d="M294.70,335.10L331.68,333.81A37.0,37.0 0 0 1 331.70,335.10Z" fill="#C9C9C9"/>
<path d="M294.70,335.10L331.70,335.10A37.0,37.0 0 0 1 331.50,338.97Z" fill="#263878"/>
<path d="M294.70,335.10L331.50,338.97A37.0,37.0 0 0 1 331.14,341.52Z" fill="#A5A5A5"/>
<path d="M294.70,335.10L331.14,341.52A37.0,37.0 0 0 1 330.08,345.92Z" fill="#D9D9D9"/>
<path d="M294.70,335.10L330.08,345.92A37.0,37.0 0 0 1 327.37,352.47Z" fill="#506E28"/>
<path d="M294.70,335.10L327.37,352.47A37.0,37.0 0 0 1 326.42,354.16Z" fill="#F2B184"/>
<path d="M294.70,335.10L326.42,354.16A37.0,37.0 0 0 1 324.63,356.85Z" fill="#263878"/>
<path d="M294.70,335.10L324.63,356.85A37.0,37.0 0 0 1 323.45,358.38Z" fill="#E69155"/>
<path d="M294.70,335.10L323.45,358.38A37.0,37.0 0 0 1 307.35,369.87Z" fill="#F5DA7A"/>
<path d="M294.70,335.10L307.35,369.87A37.0,37.0 0 0 1 304.90,370.67Z" fill="#A5A5A5"/>
<path d="M294.70,335.10L304.90,370.67A37.0,37.0 0 0 1 271.42,306.35Z" fill="#F2CC48"/>
<path d="M294.70,335.10L271.42,306.35A37.0,37.0 0 0 1 290.19,298.38Z" fill="#4A7CC8"/>
<path d="M294.70,335.10L290.19,298.38A37.0,37.0 0 0 1 292.76,298.15Z" fill="#9E480E"/>
<path d="M294.70,335.10L292.76,298.15A37.0,37.0 0 0 1 294.70,298.10Z" fill="#C9C9C9"/>
<circle cx="392.95" cy="335.1" r="37.0" fill="#B8B8B8"/>
<path d="M392.95,335.10L392.95,298.10A37.0,37.0 0 0 1 393.92,298.11Z" fill="#2D4590"/>
<path d="M392.95,335.10L393.92,298.11A37.0,37.0 0 0 1 394.89,298.15Z" fill="#A5A5A5"/>
<path d="M392.95,335.10L394.89,298.15A37.0,37.0 0 0 1 396.17,298.24Z" fill="#C9C9C9"/>
<path d="M392.95,335.10L396.17,298.24A37.0,37.0 0 0 1 398.10,298.46Z" fill="#F5DA7A"/>
<path d="M392.95,335.10L398.10,298.46A37.0,37.0 0 0 1 400.01,298.78Z" fill="#4A7CC8"/>
<path d="M392.95,335.10L400.01,298.78A37.0,37.0 0 0 1 425.62,317.73Z" fill="#C8A032"/>
<path d="M392.95,335.10L425.62,317.73A37.0,37.0 0 0 1 426.48,319.46Z" fill="#C9C9C9"/>
<path d="M392.95,335.10L426.48,319.46A37.0,37.0 0 0 1 427.26,321.24Z" fill="#C9A46A"/>
<path d="M392.95,335.10L427.26,321.24A37.0,37.0 0 0 1 427.93,323.05Z" fill="#A5C3EB"/>
<path d="M392.95,335.10L427.93,323.05A37.0,37.0 0 0 1 428.52,324.90Z" fill="#96C35F"/>
<path d="M392.95,335.10L428.52,324.90A37.0,37.0 0 0 1 429.00,326.78Z" fill="#C9C9C9"/>
<path d="M392.95,335.10L429.00,326.78A37.0,37.0 0 0 1 429.39,328.68Z" fill="#A5C3EB"/>
<path d="M392.95,335.10L429.39,328.68A37.0,37.0 0 0 1 429.86,332.52Z" fill="#A7BBE8"/>
<path d="M392.95,335.10L429.86,332.52A37.0,37.0 0 0 1 429.95,335.10Z" fill="#263878"/>
<path d="M392.95,335.10L429.95,335.10A37.0,37.0 0 0 1 429.90,337.04Z" fill="#4A7CC8"/>
<path d="M392.95,335.10L429.90,337.04A37.0,37.0 0 0 1 429.39,341.52Z" fill="#C9C9C9"/>
<path d="M392.95,335.10L429.39,341.52A37.0,37.0 0 0 1 428.52,345.30Z" fill="#2D4590"/>
<path d="M392.95,335.10L428.52,345.30A37.0,37.0 0 0 1 425.92,351.90Z" fill="#506E28"/>
<path d="M392.95,335.10L425.92,351.90A37.0,37.0 0 0 1 424.33,354.71Z" fill="#263878"/>
<path d="M392.95,335.10L424.33,354.71A37.0,37.0 0 0 1 422.88,356.85Z" fill="#A5A5A5"/>
<path d="M392.95,335.10L422.88,356.85A37.0,37.0 0 0 1 421.29,358.88Z" fill="#5A5A5A"/>
<path d="M392.95,335.10L421.29,358.88A37.0,37.0 0 0 1 418.65,361.72Z" fill="#F5DA7A"/>
<path d="M392.95,335.10L418.65,361.72A37.0,37.0 0 0 1 416.73,363.44Z" fill="#A5A5A5"/>
<path d="M392.95,335.10L416.73,363.44A37.0,37.0 0 1 1 391.01,298.15Z" fill="#F2CC48"/>
<path d="M392.95,335.10L391.01,298.15A37.0,37.0 0 0 1 392.95,298.10Z" fill="#9E480E"/>
<circle cx="110.6" cy="415.25" r="37.0" fill="#B8B8B8"/>
<path d="M110.60,415.25L110.60,378.25A37.0,37.0 0 0 1 113.82,378.39Z" fill="#C9C9C9"/>
<path d="M110.60,415.25L113.82,378.39A37.0,37.0 0 0 1 115.75,378.61Z" fill="#4A7CC8"/>
<path d="M110.60,415.25L115.75,378.61A37.0,37.0 0 0 1 118.29,379.06Z" fill="#A5C3EB"/>
<path d="M110.60,415.25L118.29,379.06A37.0,37.0 0 0 1 120.18,379.51Z" fill="#A5A5A5"/>
<path d="M110.60,415.25L120.18,379.51A37.0,37.0 0 0 1 122.03,380.06Z" fill="#F2B184"/>
<path d="M110.60,415.25L122.03,380.06A37.0,37.0 0 0 1 123.25,380.48Z" fill="#8C7A2E"/>
<path d="M110.60,415.25L123.25,380.48A37.0,37.0 0 0 1 126.24,381.72Z" fill="#A5A5A5"/>
<path d="M110.60,415.25L126.24,381.72A37.0,37.0 0 0 1 128.54,382.89Z" fill="#4A7CC8"/>
<path d="M110.60,415.25L128.54,382.89A37.0,37.0 0 0 1 136.30,388.63Z" fill="#C9C9C9"/>
<path d="M110.60,415.25L136.30,388.63A37.0,37.0 0 0 1 138.52,390.98Z" fill="#2D4590"/>
<path d="M110.60,415.25L138.52,390.98A37.0,37.0 0 0 1 140.53,393.50Z" fill="#5A5A5A"/>
<path d="M110.60,415.25L140.53,393.50A37.0,37.0 0 0 1 142.96,397.31Z" fill="#8C7A2E"/>
<path d="M110.60,415.25L142.96,397.31A37.0,37.0 0 0 1 144.40,400.20Z" fill="#F5DA7A"/>
<path d="M110.60,415.25L144.40,400.20A37.0,37.0 0 0 1 145.58,403.20Z" fill="#C9A46A"/>
<path d="M110.60,415.25L145.58,403.20A37.0,37.0 0 0 1 146.65,406.93Z" fill="#E69155"/>
<path d="M110.60,415.25L146.65,406.93A37.0,37.0 0 0 1 147.40,411.38Z" fill="#A5A5A5"/>
<path d="M110.60,415.25L147.40,411.38A37.0,37.0 0 0 1 147.59,414.60Z" fill="#A5C3EB"/>
<path d="M110.60,415.25L147.59,414.60A37.0,37.0 0 0 1 147.51,417.83Z" fill="#4A7CC8"/>
<path d="M110.60,415.25L147.51,417.83A37.0,37.0 0 0 1 147.04,421.67Z" fill="#8C7A2E"/>
<path d="M110.60,415.25L147.04,421.67A37.0,37.0 0 0 1 146.50,424.20Z" fill="#F2C12E"/>
<path d="M110.60,415.25L146.50,424.20A37.0,37.0 0 0 1 145.37,427.90Z" fill="#C9C9C9"/>
<path d="M110.60,415.25L145.37,427.90A37.0,37.0 0 0 1 143.86,431.47Z" fill="#4A7CC8"/>
<path d="M110.60,415.25L143.86,431.47A37.0,37.0 0 0 1 142.32,434.31Z" fill="#A5C3EB"/>
<path d="M110.60,415.25L142.32,434.31A37.0,37.0 0 0 1 140.15,437.52Z" fill="#A5A5A5"/>
<path d="M110.60,415.25L140.15,437.52A37.0,37.0 0 0 1 138.10,440.01Z" fill="#A5A5A5"/>
<path d="M110.60,415.25L138.10,440.01A37.0,37.0 0 0 1 132.87,444.80Z" fill="#E69155"/>
<path d="M110.60,415.25L132.87,444.80A37.0,37.0 0 0 1 130.21,446.63Z" fill="#8C7A2E"/>
<path d="M110.60,415.25L130.21,446.63A37.0,37.0 0 0 1 125.06,449.31Z" fill="#C9C9C9"/>
<path d="M110.60,415.25L125.06,449.31A37.0,37.0 0 0 1 121.42,450.63Z" fill="#A5C3EB"/>
<path d="M110.60,415.25L121.42,450.63A37.0,37.0 0 0 1 117.02,451.69Z" fill="#8FAADC"/>
<path d="M110.60,415.25L117.02,451.69A37.0,37.0 0 0 1 112.54,452.20Z" fill="#A5A5A5"/>
<path d="M110.60,415.25L112.54,452.20A37.0,37.0 0 0 1 106.73,452.05Z" fill="#A5A5A5"/>
<path d="M110.60,415.25L106.73,452.05A37.0,37.0 0 0 1 102.91,451.44Z" fill="#5A5A5A"/>
<path d="M110.60,415.25L102.91,451.44A37.0,37.0 0 0 1 99.17,450.44Z" fill="#4F4F4F"/>
<path d="M110.60,415.25L99.17,450.44A37.0,37.0 0 0 1 96.14,449.31Z" fill="#F2C12E"/>
<path d="M110.60,415.25L96.14,449.31A37.0,37.0 0 0 1 92.66,447.61Z" fill="#F2B184"/>
<path d="M110.60,415.25L92.66,447.61A37.0,37.0 0 0 1 88.85,445.18Z" fill="#5A5A5A"/>
<path d="M110.60,415.25L88.85,445.18A37.0,37.0 0 0 1 86.33,443.17Z" fill="#A5A5A5"/>
<path d="M110.60,415.25L86.33,443.17A37.0,37.0 0 0 1 83.10,440.01Z" fill="#A5C3EB"/>
<path d="M110.60,415.25L83.10,440.01A37.0,37.0 0 0 1 81.05,437.52Z" fill="#F2CC48"/>
<path d="M110.60,415.25L81.05,437.52A37.0,37.0 0 0 1 79.22,434.86Z" fill="#A5C3EB"/>
<path d="M110.60,415.25L79.22,434.86A37.0,37.0 0 0 1 77.34,431.47Z" fill="#4A7CC8"/>
<path d="M110.60,415.25L77.34,431.47A37.0,37.0 0 0 1 75.83,427.90Z" fill="#8FAADC"/>
<path d="M110.60,415.25L75.83,427.90A37.0,37.0 0 0 1 74.41,422.94Z" fill="#4F4F4F"/>
<path d="M110.60,415.25L74.41,422.94A37.0,37.0 0 0 1 74.06,421.04Z" fill="#68A444"/>
<path d="M110.60,415.25L74.06,421.04A37.0,37.0 0 0 1 73.80,411.38Z" fill="#D9D9D9"/>
<path d="M110.60,415.25L73.80,411.38A37.0,37.0 0 0 1 74.86,405.67Z" fill="#E69155"/>
<path d="M110.60,415.25L74.86,405.67A37.0,37.0 0 0 1 76.29,401.39Z" fill="#C9C9C9"/>
<path d="M110.60,415.25L76.29,401.39A37.0,37.0 0 0 1 77.34,399.03Z" fill="#F5DA7A"/>
<path d="M110.60,415.25L77.34,399.03A37.0,37.0 0 0 1 78.88,396.19Z" fill="#2D4590"/>
<path d="M110.60,415.25L78.88,396.19A37.0,37.0 0 0 1 80.67,393.50Z" fill="#4A7CC8"/>
<path d="M110.60,415.25L80.67,393.50A37.0,37.0 0 0 1 83.98,389.55Z" fill="#A5A5A5"/>
<path d="M110.60,415.25L83.98,389.55A37.0,37.0 0 0 1 86.33,387.33Z" fill="#E69155"/>
<path d="M110.60,415.25L86.33,387.33A37.0,37.0 0 0 1 88.85,385.32Z" fill="#A5A5A5"/>
<path d="M110.60,415.25L88.85,385.32A37.0,37.0 0 0 1 91.54,383.53Z" fill="#4A7CC8"/>
<path d="M110.60,415.25L91.54,383.53A37.0,37.0 0 0 1 94.96,381.72Z" fill="#C9C9C9"/>
<path d="M110.60,415.25L94.96,381.72A37.0,37.0 0 0 1 103.54,378.93Z" fill="#A9D18E"/>
<path d="M110.60,415.25L103.54,378.93A37.0,37.0 0 0 1 105.45,378.61Z" fill="#A5A5A5"/>
<path d="M110.60,415.25L105.45,378.61A37.0,37.0 0 0 1 108.02,378.34Z" fill="#F2C12E"/>
<path d="M110.60,415.25L108.02,378.34A37.0,37.0 0 0 1 110.60,378.25Z" fill="#A5A5A5"/>
<circle cx="216.65" cy="415.25" r="37.0" fill="#B8B8B8"/>
<path d="M216.65,415.25L216.65,378.25A37.0,37.0 0 0 1 218.59,378.30Z" fill="#C9C9C9"/>
<path d="M216.65,415.25L218.59,378.30A37.0,37.0 0 0 1 223.07,378.81Z" fill="#506E28"/>
<path d="M216.65,415.25L223.07,378.81A37.0,37.0 0 0 1 224.97,379.20Z" fill="#96C35F"/>
<path d="M216.65,415.25L224.97,379.20A37.0,37.0 0 0 1 228.70,380.27Z" fill="#A5A5A5"/>
<path d="M216.65,415.25L228.70,380.27A37.0,37.0 0 0 1 243.27,389.55Z" fill="#4A6FC8"/>
<path d="M216.65,415.25L243.27,389.55A37.0,37.0 0 0 1 244.15,390.49Z" fill="#F2B184"/>
<path d="M216.65,415.25L244.15,390.49A37.0,37.0 0 0 1 248.03,395.64Z" fill="#506E28"/>
<path d="M216.65,415.25L248.03,395.64A37.0,37.0 0 0 1 249.32,397.88Z" fill="#4A7CC8"/>
<path d="M216.65,415.25L249.32,397.88A37.0,37.0 0 0 1 250.18,399.61Z" fill="#F5DA7A"/>
<path d="M216.65,415.25L250.18,399.61A37.0,37.0 0 0 1 253.65,415.25Z" fill="#8FAADC"/>
<path d="M216.65,415.25L253.65,415.25A37.0,37.0 0 0 1 253.37,419.76Z" fill="#8E7520"/>
<path d="M216.65,415.25L253.37,419.76A37.0,37.0 0 0 1 252.70,423.57Z" fill="#F2C12E"/>
<path d="M216.65,415.25L252.70,423.57A37.0,37.0 0 0 1 252.03,426.07Z" fill="#F2CC48"/>
<path d="M216.65,415.25L252.03,426.07A37.0,37.0 0 0 1 250.96,429.11Z" fill="#96C35F"/>
<path d="M216.65,415.25L250.96,429.11A37.0,37.0 0 0 1 250.18,430.89Z" fill="#2D4590"/>
<path d="M216.65,415.25L250.18,430.89A37.0,37.0 0 0 1 249.01,433.19Z" fill="#8C7A2E"/>
<path d="M216.65,415.25L249.01,433.19A37.0,37.0 0 0 1 229.30,450.02Z" fill="#7AA5E0"/>
<path d="M216.65,415.25L229.30,450.02A37.0,37.0 0 0 1 227.47,450.63Z" fill="#8E7520"/>
<path d="M216.65,415.25L227.47,450.63A37.0,37.0 0 0 1 214.71,452.20Z" fill="#C9C9C9"/>
<path d="M216.65,415.25L214.71,452.20A37.0,37.0 0 0 1 212.78,452.05Z" fill="#F2B184"/>
<path d="M216.65,415.25L212.78,452.05A37.0,37.0 0 0 1 210.23,451.69Z" fill="#A5C3EB"/>
<path d="M216.65,415.25L210.23,451.69A37.0,37.0 0 0 1 206.45,450.82Z" fill="#C9C9C9"/>
<path d="M216.65,415.25L206.45,450.82A37.0,37.0 0 0 1 201.01,448.78Z" fill="#A5A5A5"/>
<path d="M216.65,415.25L201.01,448.78A37.0,37.0 0 0 1 198.15,447.29Z" fill="#5A5A5A"/>
<path d="M216.65,415.25L198.15,447.29A37.0,37.0 0 0 1 193.37,444.00Z" fill="#4A6FC8"/>
<path d="M216.65,415.25L193.37,444.00A37.0,37.0 0 0 1 190.49,441.41Z" fill="#2D4590"/>
<path d="M216.65,415.25L190.49,441.41A37.0,37.0 0 0 1 188.31,439.03Z" fill="#68A444"/>
<path d="M216.65,415.25L188.31,439.03A37.0,37.0 0 0 1 179.67,416.54Z" fill="#5A5A5A"/>
<path d="M216.65,415.25L179.67,416.54A37.0,37.0 0 0 1 179.66,414.60Z" fill="#4A7CC8"/>
<path d="M216.65,415.25L179.66,414.60A37.0,37.0 0 0 1 181.88,402.60Z" fill="#D9D9D9"/>
<path d="M216.65,415.25L181.88,402.60A37.0,37.0 0 0 1 183.68,398.45Z" fill="#E69155"/>
<path d="M216.65,415.25L183.68,398.45A37.0,37.0 0 0 1 184.61,396.75Z" fill="#C9C9C9"/>
<path d="M216.65,415.25L184.61,396.75A37.0,37.0 0 0 1 185.62,395.10Z" fill="#F2C12E"/>
<path d="M216.65,415.25L185.62,395.10A37.0,37.0 0 0 1 187.49,392.47Z" fill="#5A5A5A"/>
<path d="M216.65,415.25L187.49,392.47A37.0,37.0 0 0 1 194.38,385.70Z" fill="#C9C9C9"/>
<path d="M216.65,415.25L194.38,385.70A37.0,37.0 0 0 1 197.04,383.87Z" fill="#E69155"/>
<path d="M216.65,415.25L197.04,383.87A37.0,37.0 0 0 1 199.85,382.28Z" fill="#2D4590"/>
<path d="M216.65,415.25L199.85,382.28A37.0,37.0 0 0 1 209.59,378.93Z" fill="#5A5A5A"/>
<path d="M216.65,415.25L209.59,378.93A37.0,37.0 0 0 1 213.43,378.39Z" fill="#506E28"/>
<path d="M216.65,415.25L213.43,378.39A37.0,37.0 0 0 1 216.65,378.25Z" fill="#C9C9C9"/>
<circle cx="294.7" cy="415.25" r="37.0" fill="#B8B8B8"/>
<path d="M294.70,415.25L294.70,378.25A37.0,37.0 0 0 1 295.99,378.27Z" fill="#68A444"/>
<path d="M294.70,415.25L295.99,378.27A37.0,37.0 0 0 1 297.92,378.39Z" fill="#C9C9C9"/>
<path d="M294.70,415.25L297.92,378.39A37.0,37.0 0 0 1 304.28,379.51Z" fill="#A7BBE8"/>
<path d="M294.70,415.25L304.28,379.51A37.0,37.0 0 0 1 323.04,391.47Z" fill="#4A6FC8"/>
<path d="M294.70,415.25L323.04,391.47A37.0,37.0 0 0 1 324.63,393.50Z" fill="#A5A5A5"/>
<path d="M294.70,415.25L324.63,393.50A37.0,37.0 0 0 1 327.06,397.31Z" fill="#506E28"/>
<path d="M294.70,415.25L327.06,397.31A37.0,37.0 0 0 1 328.76,400.79Z" fill="#4A7CC8"/>
<path d="M294.70,415.25L328.76,400.79A37.0,37.0 0 0 1 329.68,403.20Z" fill="#96C35F"/>
<path d="M294.70,415.25L329.68,403.20A37.0,37.0 0 0 1 330.75,406.93Z" fill="#F2C12E"/>
<path d="M294.70,415.25L330.75,406.93A37.0,37.0 0 0 1 331.14,421.67Z" fill="#8FAADC"/>
<path d="M294.70,415.25L331.14,421.67A37.0,37.0 0 0 1 330.08,426.07Z" fill="#8E7520"/>
<path d="M294.70,415.25L330.08,426.07A37.0,37.0 0 0 1 329.01,429.11Z" fill="#F2B184"/>
<path d="M294.70,415.25L329.01,429.11A37.0,37.0 0 0 1 327.37,432.62Z" fill="#8C7A2E"/>
<path d="M294.70,415.25L327.37,432.62A37.0,37.0 0 0 1 322.20,440.01Z" fill="#7AA5E0"/>
<path d="M294.70,415.25L322.20,440.01A37.0,37.0 0 0 1 319.93,442.31Z" fill="#263878"/>
<path d="M294.70,415.25L319.93,442.31A37.0,37.0 0 0 1 317.98,444.00Z" fill="#F2C12E"/>
<path d="M294.70,415.25L317.98,444.00A37.0,37.0 0 0 1 311.50,448.22Z" fill="#A5C3EB"/>
<path d="M294.70,415.25L311.50,448.22A37.0,37.0 0 0 1 294.70,452.25Z" fill="#C9C9C9"/>
<path d="M294.70,415.25L294.70,452.25A37.0,37.0 0 0 1 276.20,447.29Z" fill="#F2B184"/>
<path d="M294.70,415.25L276.20,447.29A37.0,37.0 0 0 1 272.95,445.18Z" fill="#A5C3EB"/>
<path d="M294.70,415.25L272.95,445.18A37.0,37.0 0 0 1 269.94,442.75Z" fill="#A5A5A5"/>
<path d="M294.70,415.25L269.94,442.75A37.0,37.0 0 0 1 266.36,439.03Z" fill="#5A5A5A"/>
<path d="M294.70,415.25L266.36,439.03A37.0,37.0 0 0 1 264.03,435.94Z" fill="#A5C3EB"/>
<path d="M294.70,415.25L264.03,435.94A37.0,37.0 0 0 1 261.73,432.05Z" fill="#4A6FC8"/>
<path d="M294.70,415.25L261.73,432.05A37.0,37.0 0 0 1 260.39,429.11Z" fill="#263878"/>
<path d="M294.70,415.25L260.39,429.11A37.0,37.0 0 0 1 257.84,412.03Z" fill="#5A5A5A"/>
<path d="M294.70,415.25L257.84,412.03A37.0,37.0 0 0 1 258.16,409.46Z" fill="#F2B184"/>
<path d="M294.70,415.25L258.16,409.46A37.0,37.0 0 0 1 260.64,400.79Z" fill="#D9D9D9"/>
<path d="M294.70,415.25L260.64,400.79A37.0,37.0 0 0 1 262.34,397.31Z" fill="#A5A5A5"/>
<path d="M294.70,415.25L262.34,397.31A37.0,37.0 0 0 1 263.67,395.10Z" fill="#E69155"/>
<path d="M294.70,415.25L263.67,395.10A37.0,37.0 0 0 1 267.64,390.02Z" fill="#F5DA7A"/>
<path d="M294.70,415.25L267.64,390.02A37.0,37.0 0 0 1 269.94,387.75Z" fill="#5A5A5A"/>
<path d="M294.70,415.25L269.94,387.75A37.0,37.0 0 0 1 271.92,386.09Z" fill="#506E28"/>
<path d="M294.70,415.25L271.92,386.09A37.0,37.0 0 0 1 277.90,382.28Z" fill="#C9C9C9"/>
<path d="M294.70,415.25L277.90,382.28A37.0,37.0 0 0 1 280.84,380.94Z" fill="#E69155"/>
<path d="M294.70,415.25L280.84,380.94A37.0,37.0 0 0 1 287.64,378.93Z" fill="#5A5A5A"/>
<path d="M294.70,415.25L287.64,378.93A37.0,37.0 0 0 1 289.55,378.61Z" fill="#F2B184"/>
<path d="M294.70,415.25L289.55,378.61A37.0,37.0 0 0 1 292.12,378.34Z" fill="#68A444"/>
<path d="M294.70,415.25L292.12,378.34A37.0,37.0 0 0 1 294.70,378.25Z" fill="#C9C9C9"/>
<circle cx="392.95" cy="415.25" r="37.0" fill="#B8B8B8"/>
<path d="M392.95,415.25L392.95,378.25A37.0,37.0 0 0 1 394.89,378.30Z" fill="#C9C9C9"/>
<path d="M392.95,415.25L394.89,378.30A37.0,37.0 0 0 1 396.82,378.45Z" fill="#F2B184"/>
<path d="M392.95,415.25L396.82,378.45A37.0,37.0 0 0 1 398.10,378.61Z" fill="#A5A5A5"/>
<path d="M392.95,415.25L398.10,378.61A37.0,37.0 0 0 1 400.01,378.93Z" fill="#263878"/>
<path d="M392.95,415.25L400.01,378.93A37.0,37.0 0 0 1 408.00,381.45Z" fill="#4A6FC8"/>
<path d="M392.95,415.25L408.00,381.45A37.0,37.0 0 0 1 409.75,382.28Z" fill="#A5A5A5"/>
<path d="M392.95,415.25L409.75,382.28A37.0,37.0 0 0 1 412.01,383.53Z" fill="#506E28"/>
<path d="M392.95,415.25L412.01,383.53A37.0,37.0 0 0 1 414.70,385.32Z" fill="#4A7CC8"/>
<path d="M392.95,415.25L414.70,385.32A37.0,37.0 0 0 1 416.23,386.50Z" fill="#96C35F"/>
<path d="M392.95,415.25L416.23,386.50A37.0,37.0 0 0 1 417.71,387.75Z" fill="#F5DA7A"/>
<path d="M392.95,415.25L417.71,387.75A37.0,37.0 0 0 1 419.57,389.55Z" fill="#F2C12E"/>
<path d="M392.95,415.25L419.57,389.55A37.0,37.0 0 0 1 424.99,396.75Z" fill="#8FAADC"/>
<path d="M392.95,415.25L424.99,396.75A37.0,37.0 0 0 1 427.72,402.60Z" fill="#8E7520"/>
<path d="M392.95,415.25L427.72,402.60A37.0,37.0 0 0 1 428.52,405.05Z" fill="#C9C9C9"/>
<path d="M392.95,415.25L428.52,405.05A37.0,37.0 0 0 1 429.00,406.93Z" fill="#A5A5A5"/>
<path d="M392.95,415.25L429.00,406.93A37.0,37.0 0 0 1 429.39,408.83Z" fill="#F2B184"/>
<path d="M392.95,415.25L429.39,408.83A37.0,37.0 0 0 1 429.67,410.74Z" fill="#A5A5A5"/>
<path d="M392.95,415.25L429.67,410.74A37.0,37.0 0 0 1 429.93,413.96Z" fill="#8E7520"/>
<path d="M392.95,415.25L429.93,413.96A37.0,37.0 0 0 1 429.93,416.54Z" fill="#C9C9C9"/>
<path d="M392.95,415.25L429.93,416.54A37.0,37.0 0 0 1 429.27,422.31Z" fill="#4A7CC8"/>
<path d="M392.95,415.25L429.27,422.31A37.0,37.0 0 0 1 428.85,424.20Z" fill="#A5A5A5"/>
<path d="M392.95,415.25L428.85,424.20A37.0,37.0 0 0 1 428.33,426.07Z" fill="#8E7520"/>
<path d="M392.95,415.25L428.33,426.07A37.0,37.0 0 0 1 427.49,428.51Z" fill="#8FAADC"/>
<path d="M392.95,415.25L427.49,428.51A37.0,37.0 0 0 1 425.92,432.05Z" fill="#A5C3EB"/>
<path d="M392.95,415.25L425.92,432.05A37.0,37.0 0 0 1 424.33,434.86Z" fill="#96C35F"/>
<path d="M392.95,415.25L424.33,434.86A37.0,37.0 0 0 1 423.62,435.94Z" fill="#2D4590"/>
<path d="M392.95,415.25L423.62,435.94A37.0,37.0 0 0 1 407.41,449.31Z" fill="#E69155"/>
<path d="M392.95,415.25L407.41,449.31A37.0,37.0 0 0 1 405.60,450.02Z" fill="#C9C9C9"/>
<path d="M392.95,415.25L405.60,450.02A37.0,37.0 0 0 1 397.46,451.97Z" fill="#8E7520"/>
<path d="M392.95,415.25L397.46,451.97A37.0,37.0 0 0 1 394.89,452.20Z" fill="#A5A5A5"/>
<path d="M392.95,415.25L394.89,452.20A37.0,37.0 0 0 1 392.30,452.24Z" fill="#C9C9C9"/>
<path d="M392.95,415.25L392.30,452.24A37.0,37.0 0 0 1 389.08,452.05Z" fill="#A5A5A5"/>
<path d="M392.95,415.25L389.08,452.05A37.0,37.0 0 0 1 382.75,450.82Z" fill="#4A6FC8"/>
<path d="M392.95,415.25L382.75,450.82A37.0,37.0 0 0 1 380.30,450.02Z" fill="#263878"/>
<path d="M392.95,415.25L380.30,450.02A37.0,37.0 0 0 1 376.73,448.51Z" fill="#68A444"/>
<path d="M392.95,415.25L376.73,448.51A37.0,37.0 0 0 1 366.79,441.41Z" fill="#4F4F4F"/>
<path d="M392.95,415.25L366.79,441.41A37.0,37.0 0 0 1 365.89,440.48Z" fill="#F2B184"/>
<path d="M392.95,415.25L365.89,440.48A37.0,37.0 0 0 1 360.59,433.19Z" fill="#D9D9D9"/>
<path d="M392.95,415.25L360.59,433.19A37.0,37.0 0 0 1 356.51,421.67Z" fill="#A5A5A5"/>
<path d="M392.95,415.25L356.51,421.67A37.0,37.0 0 0 1 356.15,419.12Z" fill="#F2B184"/>
<path d="M392.95,415.25L356.15,419.12A37.0,37.0 0 0 1 355.97,416.54Z" fill="#C9A46A"/>
<path d="M392.95,415.25L355.97,416.54A37.0,37.0 0 0 1 356.00,413.31Z" fill="#F2CC48"/>
<path d="M392.95,415.25L356.00,413.31A37.0,37.0 0 0 1 356.09,412.03Z" fill="#F2B184"/>
<path d="M392.95,415.25L356.09,412.03A37.0,37.0 0 0 1 367.72,388.19Z" fill="#4F4F4F"/>
<path d="M392.95,415.25L367.72,388.19A37.0,37.0 0 0 1 368.68,387.33Z" fill="#F2B184"/>
<path d="M392.95,415.25L368.68,387.33A37.0,37.0 0 0 1 374.45,383.21Z" fill="#68A444"/>
<path d="M392.95,415.25L374.45,383.21A37.0,37.0 0 0 1 381.52,380.06Z" fill="#C9C9C9"/>
<path d="M392.95,415.25L381.52,380.06A37.0,37.0 0 0 1 385.26,379.06Z" fill="#A5A5A5"/>
<path d="M392.95,415.25L385.26,379.06A37.0,37.0 0 0 1 387.80,378.61Z" fill="#5A5A5A"/>
<path d="M392.95,415.25L387.80,378.61A37.0,37.0 0 0 1 390.37,378.34Z" fill="#F2B184"/>
<path d="M392.95,415.25L390.37,378.34A37.0,37.0 0 0 1 392.95,378.25Z" fill="#C9C9C9"/>
<circle cx="110.6" cy="497.65" r="37.0" fill="#B8B8B8"/>
<path d="M110.60,497.65L110.60,460.65A37.0,37.0 0 0 1 113.18,460.74Z" fill="#C9C9C9"/>
<path d="M110.60,497.65L113.18,460.74A37.0,37.0 0 0 1 113.82,460.79Z" fill="#F2C12E"/>
<path d="M110.60,497.65L113.82,460.79A37.0,37.0 0 0 1 115.75,461.01Z" fill="#A5C3EB"/>
<path d="M110.60,497.65L115.75,461.01A37.0,37.0 0 0 1 117.66,461.33Z" fill="#C9A46A"/>
<path d="M110.60,497.65L117.66,461.33A37.0,37.0 0 0 1 120.18,461.91Z" fill="#96C35F"/>
<path d="M110.60,497.65L120.18,461.91A37.0,37.0 0 0 1 124.46,463.34Z" fill="#68A444"/>
<path d="M110.60,497.65L124.46,463.34A37.0,37.0 0 0 1 147.55,495.71Z" fill="#263878"/>
<path d="M110.60,497.65L147.55,495.71A37.0,37.0 0 0 1 147.60,497.65Z" fill="#C9A46A"/>
<path d="M110.60,497.65L147.60,497.65A37.0,37.0 0 0 1 147.58,498.94Z" fill="#68A444"/>
<path d="M110.60,497.65L147.58,498.94A37.0,37.0 0 0 1 147.46,500.87Z" fill="#A5C3EB"/>
<path d="M110.60,497.65L147.46,500.87A37.0,37.0 0 0 1 147.24,502.80Z" fill="#E69155"/>
<path d="M110.60,497.65L147.24,502.80A37.0,37.0 0 0 1 146.92,504.71Z" fill="#F2B184"/>
<path d="M110.60,497.65L146.92,504.71A37.0,37.0 0 0 1 146.50,506.60Z" fill="#F5DA7A"/>
<path d="M110.60,497.65L146.50,506.60A37.0,37.0 0 0 1 145.98,508.47Z" fill="#F2C12E"/>
<path d="M110.60,497.65L145.98,508.47A37.0,37.0 0 0 1 145.37,510.30Z" fill="#C9C9C9"/>
<path d="M110.60,497.65L145.37,510.30A37.0,37.0 0 0 1 144.66,512.11Z" fill="#68A444"/>
<path d="M110.60,497.65L144.66,512.11A37.0,37.0 0 0 1 143.27,515.02Z" fill="#C9C9C9"/>
<path d="M110.60,497.65L143.27,515.02A37.0,37.0 0 0 1 140.91,518.87Z" fill="#9E480E"/>
<path d="M110.60,497.65L140.91,518.87A37.0,37.0 0 0 1 138.10,522.41Z" fill="#4A7CC8"/>
<path d="M110.60,497.65L138.10,522.41A37.0,37.0 0 0 1 134.38,525.99Z" fill="#F2C12E"/>
<path d="M110.60,497.65L134.38,525.99A37.0,37.0 0 0 1 130.75,528.68Z" fill="#4A6FC8"/>
<path d="M110.60,497.65L130.75,528.68A37.0,37.0 0 0 1 127.40,530.62Z" fill="#2D4590"/>
<path d="M110.60,497.65L127.40,530.62A37.0,37.0 0 0 1 125.06,531.71Z" fill="#A5C3EB"/>
<path d="M110.60,497.65L125.06,531.71A37.0,37.0 0 0 1 122.65,532.63Z" fill="#2D4590"/>
<path d="M110.60,497.65L122.65,532.63A37.0,37.0 0 0 1 120.18,533.39Z" fill="#A5A5A5"/>
<path d="M110.60,497.65L120.18,533.39A37.0,37.0 0 0 1 117.66,533.97Z" fill="#5A5A5A"/>
<path d="M110.60,497.65L117.66,533.97A37.0,37.0 0 0 1 115.75,534.29Z" fill="#68A444"/>
<path d="M110.60,497.65L115.75,534.29A37.0,37.0 0 0 1 113.18,534.56Z" fill="#2D4590"/>
<path d="M110.60,497.65L113.18,534.56A37.0,37.0 0 0 1 110.60,534.65Z" fill="#C9C9C9"/>
<path d="M110.60,497.65L110.60,534.65A37.0,37.0 0 0 1 107.38,534.51Z" fill="#A5C3EB"/>
<path d="M110.60,497.65L107.38,534.51A37.0,37.0 0 0 1 104.18,534.09Z" fill="#C9C9C9"/>
<path d="M110.60,497.65L104.18,534.09A37.0,37.0 0 0 1 100.40,533.22Z" fill="#4A7CC8"/>
<path d="M110.60,497.65L100.40,533.22A37.0,37.0 0 0 1 97.34,532.19Z" fill="#A5C3EB"/>
<path d="M110.60,497.65L97.34,532.19A37.0,37.0 0 0 1 93.80,530.62Z" fill="#F2B184"/>
<path d="M110.60,497.65L93.80,530.62A37.0,37.0 0 0 1 90.45,528.68Z" fill="#A5C3EB"/>
<path d="M110.60,497.65L90.45,528.68A37.0,37.0 0 0 1 86.33,525.57Z" fill="#F2B184"/>
<path d="M110.60,497.65L86.33,525.57A37.0,37.0 0 0 1 83.98,523.35Z" fill="#F2C12E"/>
<path d="M110.60,497.65L83.98,523.35A37.0,37.0 0 0 1 82.26,521.43Z" fill="#9E480E"/>
<path d="M110.60,497.65L82.26,521.43A37.0,37.0 0 0 1 80.67,519.40Z" fill="#C9C9C9"/>
<path d="M110.60,497.65L80.67,519.40A37.0,37.0 0 0 1 79.22,517.26Z" fill="#4A7CC8"/>
<path d="M110.60,497.65L79.22,517.26A37.0,37.0 0 0 1 78.56,516.15Z" fill="#E69155"/>
<path d="M110.60,497.65L78.56,516.15A37.0,37.0 0 0 1 77.93,515.02Z" fill="#68A444"/>
<path d="M110.60,497.65L77.93,515.02A37.0,37.0 0 0 1 74.41,505.34Z" fill="#F2B184"/>
<path d="M110.60,497.65L74.41,505.34A37.0,37.0 0 0 1 74.16,504.07Z" fill="#C9C9C9"/>
<path d="M110.60,497.65L74.16,504.07A37.0,37.0 0 0 1 73.65,495.71Z" fill="#5A5A5A"/>
<path d="M110.60,497.65L73.65,495.71A37.0,37.0 0 0 1 77.93,480.28Z" fill="#F2B184"/>
<path d="M110.60,497.65L77.93,480.28A37.0,37.0 0 0 1 78.56,479.15Z" fill="#C9C9C9"/>
<path d="M110.60,497.65L78.56,479.15A37.0,37.0 0 0 1 81.44,474.87Z" fill="#506E28"/>
<path d="M110.60,497.65L81.44,474.87A37.0,37.0 0 0 1 83.10,472.89Z" fill="#D9D9D9"/>
<path d="M110.60,497.65L83.10,472.89A37.0,37.0 0 0 1 86.82,469.31Z" fill="#F2B184"/>
<path d="M110.60,497.65L86.82,469.31A37.0,37.0 0 0 1 88.85,467.72Z" fill="#C9C9C9"/>
<path d="M110.60,497.65L88.85,467.72A37.0,37.0 0 0 1 91.54,465.93Z" fill="#C9C9C9"/>
<path d="M110.60,497.65L91.54,465.93A37.0,37.0 0 0 1 93.80,464.68Z" fill="#4A7CC8"/>
<path d="M110.60,497.65L93.80,464.68A37.0,37.0 0 0 1 96.14,463.59Z" fill="#C9C9C9"/>
<path d="M110.60,497.65L96.14,463.59A37.0,37.0 0 0 1 97.95,462.88Z" fill="#96C35F"/>
<path d="M110.60,497.65L97.95,462.88A37.0,37.0 0 0 1 99.78,462.27Z" fill="#4A7CC8"/>
<path d="M110.60,497.65L99.78,462.27A37.0,37.0 0 0 1 101.65,461.75Z" fill="#F2B184"/>
<path d="M110.60,497.65L101.65,461.75A37.0,37.0 0 0 1 104.18,461.21Z" fill="#4A7CC8"/>
<path d="M110.60,497.65L104.18,461.21A37.0,37.0 0 0 1 108.66,460.70Z" fill="#8C7A2E"/>
<path d="M110.60,497.65L108.66,460.70A37.0,37.0 0 0 1 110.60,460.65Z" fill="#C9C9C9"/>
<circle cx="216.65" cy="497.65" r="37.0" fill="#B8B8B8"/>
<path d="M216.65,497.65L216.65,460.65A37.0,37.0 0 0 1 217.94,460.67Z" fill="#C9C9C9"/>
<path d="M216.65,497.65L217.94,460.67A37.0,37.0 0 0 1 239.43,468.49Z" fill="#A7BBE8"/>
<path d="M216.65,497.65L239.43,468.49A37.0,37.0 0 0 1 252.39,488.07Z" fill="#263878"/>
<path d="M216.65,497.65L252.39,488.07A37.0,37.0 0 0 1 252.84,489.96Z" fill="#F2B184"/>
<path d="M216.65,497.65L252.84,489.96A37.0,37.0 0 0 1 253.29,492.50Z" fill="#A5A5A5"/>
<path d="M216.65,497.65L253.29,492.50A37.0,37.0 0 0 1 252.39,507.23Z" fill="#506E28"/>
<path d="M216.65,497.65L252.39,507.23A37.0,37.0 0 0 1 251.84,509.08Z" fill="#2D4590"/>
<path d="M216.65,497.65L251.84,509.08A37.0,37.0 0 0 1 250.71,512.11Z" fill="#263878"/>
<path d="M216.65,497.65L250.71,512.11A37.0,37.0 0 0 1 180.60,489.33Z" fill="#6E9440"/>
<path d="M216.65,497.65L180.60,489.33A37.0,37.0 0 0 1 180.91,488.07Z" fill="#A5C3EB"/>
<path d="M216.65,497.65L180.91,488.07A37.0,37.0 0 0 1 188.31,473.87Z" fill="#A9D18E"/>
<path d="M216.65,497.65L188.31,473.87A37.0,37.0 0 0 1 189.59,472.42Z" fill="#A5A5A5"/>
<path d="M216.65,497.65L189.59,472.42A37.0,37.0 0 0 1 191.89,470.15Z" fill="#5A5A5A"/>
<path d="M216.65,497.65L191.89,470.15A37.0,37.0 0 0 1 198.71,465.29Z" fill="#F2B184"/>
<path d="M216.65,497.65L198.71,465.29A37.0,37.0 0 0 1 201.01,464.12Z" fill="#C9C9C9"/>
<path d="M216.65,497.65L201.01,464.12A37.0,37.0 0 0 1 210.23,461.21Z" fill="#5A5A5A"/>
<path d="M216.65,497.65L210.23,461.21A37.0,37.0 0 0 1 212.14,460.93Z" fill="#E69155"/>
<path d="M216.65,497.65L212.14,460.93A37.0,37.0 0 0 1 214.07,460.74Z" fill="#96C35F"/>
<path d="M216.65,497.65L214.07,460.74A37.0,37.0 0 0 1 216.65,460.65Z" fill="#C9C9C9"/>
<circle cx="294.7" cy="497.65" r="37.0" fill="#B8B8B8"/>
<path d="M294.70,497.65L294.70,460.65A37.0,37.0 0 0 1 318.48,469.31Z" fill="#A7BBE8"/>
<path d="M294.70,497.65L318.48,469.31A37.0,37.0 0 0 1 319.93,470.59Z" fill="#A5A5A5"/>
<path d="M294.70,497.65L319.93,470.59A37.0,37.0 0 0 1 330.89,489.96Z" fill="#6E9440"/>
<path d="M294.70,497.65L330.89,489.96A37.0,37.0 0 0 1 330.89,505.34Z" fill="#263878"/>
<path d="M294.70,497.65L330.89,505.34A37.0,37.0 0 0 1 330.44,507.23Z" fill="#F2B184"/>
<path d="M294.70,497.65L330.44,507.23A37.0,37.0 0 0 1 329.89,509.08Z" fill="#A5A5A5"/>
<path d="M294.70,497.65L329.89,509.08A37.0,37.0 0 0 1 327.37,515.02Z" fill="#3F5A26"/>
<path d="M294.70,497.65L327.37,515.02A37.0,37.0 0 0 1 326.42,516.71Z" fill="#C9C9C9"/>
<path d="M294.70,497.65L326.42,516.71A37.0,37.0 0 0 1 324.63,519.40Z" fill="#2D4590"/>
<path d="M294.70,497.65L324.63,519.40A37.0,37.0 0 0 1 257.72,496.36Z" fill="#6E9440"/>
<path d="M294.70,497.65L257.72,496.36A37.0,37.0 0 0 1 257.84,494.43Z" fill="#A5C3EB"/>
<path d="M294.70,497.65L257.84,494.43A37.0,37.0 0 0 1 261.17,482.01Z" fill="#A9D18E"/>
<path d="M294.70,497.65L261.17,482.01A37.0,37.0 0 0 1 262.34,479.71Z" fill="#2D4590"/>
<path d="M294.70,497.65L262.34,479.71A37.0,37.0 0 0 1 263.67,477.50Z" fill="#5A5A5A"/>
<path d="M294.70,497.65L263.67,477.50A37.0,37.0 0 0 1 265.15,475.38Z" fill="#F2B184"/>
<path d="M294.70,497.65L265.15,475.38A37.0,37.0 0 0 1 266.78,473.38Z" fill="#5A5A5A"/>
<path d="M294.70,497.65L266.78,473.38A37.0,37.0 0 0 1 268.54,471.49Z" fill="#A5C3EB"/>
<path d="M294.70,497.65L268.54,471.49A37.0,37.0 0 0 1 276.76,465.29Z" fill="#344E96"/>
<path d="M294.70,497.65L276.76,465.29A37.0,37.0 0 0 1 292.12,460.74Z" fill="#8E7520"/>
<path d="M294.70,497.65L292.12,460.74A37.0,37.0 0 0 1 294.70,460.65Z" fill="#D9D9D9"/>
<circle cx="392.95" cy="497.65" r="37.0" fill="#B8B8B8"/>
<path d="M392.95,497.65L392.95,460.65A37.0,37.0 0 0 1 395.53,460.74Z" fill="#C9C9C9"/>
<path d="M392.95,497.65L395.53,460.74A37.0,37.0 0 0 1 402.53,461.91Z" fill="#A7BBE8"/>
<path d="M392.95,497.65L402.53,461.91A37.0,37.0 0 0 1 405.00,462.67Z" fill="#68A444"/>
<path d="M392.95,497.65L405.00,462.67A37.0,37.0 0 0 1 410.89,465.29Z" fill="#2D4590"/>
<path d="M392.95,497.65L410.89,465.29A37.0,37.0 0 0 1 413.10,466.62Z" fill="#F2B184"/>
<path d="M392.95,497.65L413.10,466.62A37.0,37.0 0 0 1 415.22,468.10Z" fill="#9E480E"/>
<path d="M392.95,497.65L415.22,468.10A37.0,37.0 0 0 1 429.39,491.23Z" fill="#3F5A26"/>
<path d="M392.95,497.65L429.39,491.23A37.0,37.0 0 0 1 429.75,493.78Z" fill="#D9D9D9"/>
<path d="M392.95,497.65L429.75,493.78A37.0,37.0 0 0 1 429.90,495.71Z" fill="#A5C3EB"/>
<path d="M392.95,497.65L429.90,495.71A37.0,37.0 0 0 1 429.86,500.23Z" fill="#2D4590"/>
<path d="M392.95,497.65L429.86,500.23A37.0,37.0 0 0 1 358.18,510.30Z" fill="#6E9440"/>
<path d="M392.95,497.65L358.18,510.30A37.0,37.0 0 0 1 357.76,509.08Z" fill="#A5C3EB"/>
<path d="M392.95,497.65L357.76,509.08A37.0,37.0 0 0 1 356.09,494.43Z" fill="#A9D18E"/>
<path d="M392.95,497.65L356.09,494.43A37.0,37.0 0 0 1 356.41,491.86Z" fill="#C9C9C9"/>
<path d="M392.95,497.65L356.41,491.86A37.0,37.0 0 0 1 357.38,487.45Z" fill="#2D4590"/>
<path d="M392.95,497.65L357.38,487.45A37.0,37.0 0 0 1 357.97,485.60Z" fill="#F5DA7A"/>
<path d="M392.95,497.65L357.97,485.60A37.0,37.0 0 0 1 360.59,479.71Z" fill="#C9C9C9"/>
<path d="M392.95,497.65L360.59,479.71A37.0,37.0 0 0 1 362.28,476.96Z" fill="#A5A5A5"/>
<path d="M392.95,497.65L362.28,476.96A37.0,37.0 0 0 1 368.68,469.73Z" fill="#F2B184"/>
<path d="M392.95,497.65L368.68,469.73A37.0,37.0 0 0 1 376.73,464.39Z" fill="#5A5A5A"/>
<path d="M392.95,497.65L376.73,464.39A37.0,37.0 0 0 1 379.69,463.11Z" fill="#F2B184"/>
<path d="M392.95,497.65L379.69,463.11A37.0,37.0 0 0 1 382.13,462.27Z" fill="#68A444"/>
<path d="M392.95,497.65L382.13,462.27A37.0,37.0 0 0 1 384.63,461.60Z" fill="#F2B184"/>
<path d="M392.95,497.65L384.63,461.60A37.0,37.0 0 0 1 387.80,461.01Z" fill="#4A7CC8"/>
<path d="M392.95,497.65L387.80,461.01A37.0,37.0 0 0 1 390.37,460.74Z" fill="#C9C9C9"/>
<path d="M392.95,497.65L390.37,460.74A37.0,37.0 0 0 1 392.95,460.65Z" fill="#A5A5A5"/>
<text x="109.8" y="192.6" font-size="10.8" fill="#1a1a1a" text-anchor="middle" font-weight="normal" stroke="#1a1a1a" stroke-width="0.06" >Primary</text>
<text x="109.8" y="205.4" font-size="10.8" fill="#1a1a1a" text-anchor="middle" font-weight="normal" stroke="#1a1a1a" stroke-width="0.06" >tumor</text>
<text x="216.4" y="192.6" font-size="10.8" fill="#1a1a1a" text-anchor="middle" font-weight="normal" stroke="#1a1a1a" stroke-width="0.06" >Femur BM</text>
<text x="216.4" y="205.4" font-size="10.8" fill="#1a1a1a" text-anchor="middle" font-weight="normal" stroke="#1a1a1a" stroke-width="0.06" >(left)</text>
<text x="292.4" y="192.6" font-size="10.8" fill="#1a1a1a" text-anchor="middle" font-weight="normal" stroke="#1a1a1a" stroke-width="0.06" >Femur BM</text>
<text x="292.4" y="205.4" font-size="10.8" fill="#1a1a1a" text-anchor="middle" font-weight="normal" stroke="#1a1a1a" stroke-width="0.06" >(right)</text>
<text x="390.7" y="192.6" font-size="10.8" fill="#1a1a1a" text-anchor="middle" font-weight="normal" stroke="#1a1a1a" stroke-width="0.06" >Circulating</text>
<text x="390.7" y="205.4" font-size="10.8" fill="#1a1a1a" text-anchor="middle" font-weight="normal" stroke="#1a1a1a" stroke-width="0.06" >tumor cells</text>
<text x="62.3" y="228.8" font-size="10.8" fill="#1a1a1a" text-anchor="end" font-weight="normal" stroke="#1a1a1a" stroke-width="0.06" >Mouse #</text>
<text x="62.3" y="253.2" font-size="10.5" fill="#1a1a1a" text-anchor="end" font-weight="normal" stroke="#1a1a1a" stroke-width="0.06" >P153</text>
<text x="62.3" y="336.1" font-size="10.5" fill="#1a1a1a" text-anchor="end" font-weight="normal" stroke="#1a1a1a" stroke-width="0.06" >P154</text>
<text x="62.3" y="416.25" font-size="10.5" fill="#1a1a1a" text-anchor="end" font-weight="normal" stroke="#1a1a1a" stroke-width="0.06" >P155</text>
<text x="62.3" y="498.65" font-size="10.5" fill="#1a1a1a" text-anchor="end" font-weight="normal" stroke="#1a1a1a" stroke-width="0.06" >P156</text>
<text x="111" y="281" font-size="7.4" fill="#FFFFFF" text-anchor="middle" font-weight="normal" stroke="#FFFFFF" stroke-width="0.16" letter-spacing="-0.25">4.4%</text>
<text x="151.5" y="277.3" font-size="7.4" fill="#E8A060" text-anchor="middle" font-weight="normal" stroke="#E8A060" stroke-width="0.16" letter-spacing="-0.25">0.3%</text>
<text x="239.4" y="256.6" font-size="7.4" fill="#FFFFFF" text-anchor="middle" font-weight="normal" stroke="#FFFFFF" stroke-width="0.16" letter-spacing="-0.25">22.1%</text>
<text x="209.2" y="275.3" font-size="7.4" fill="#FFFFFF" text-anchor="middle" font-weight="normal" stroke="#FFFFFF" stroke-width="0.16" letter-spacing="-0.25">14.2%</text>
<text x="317.7" y="254.2" font-size="7.4" fill="#FFFFFF" text-anchor="middle" font-weight="normal" stroke="#FFFFFF" stroke-width="0.16" letter-spacing="-0.25">16.8%</text>
<text x="293.3" y="277.7" font-size="7.4" fill="#FFFFFF" text-anchor="middle" font-weight="normal" stroke="#FFFFFF" stroke-width="0.16" letter-spacing="-0.25">13.1%</text>
<text x="414.5" y="261.6" font-size="7.4" fill="#FFFFFF" text-anchor="middle" font-weight="normal" stroke="#FFFFFF" stroke-width="0.16" letter-spacing="-0.25">19.2%</text>
<text x="382.7" y="276.2" font-size="7.4" fill="#FFFFFF" text-anchor="middle" font-weight="normal" stroke="#FFFFFF" stroke-width="0.16" letter-spacing="-0.25">9.3%</text>
<text x="84.4" y="324.2" font-size="7.4" fill="#E08A30" text-anchor="middle" font-weight="normal" stroke="#E08A30" stroke-width="0.16" letter-spacing="-0.25">5.6%</text>
<text x="148.9" y="313" font-size="7.4" fill="#222" text-anchor="middle" font-weight="normal" stroke="#222" stroke-width="0.16" letter-spacing="-0.25">1.1%</text>
<text x="235.4" y="322" font-size="7.4" fill="#111" text-anchor="middle" font-weight="bold" letter-spacing="-0.25">11.3%</text>
<text x="203" y="344" font-size="7.4" fill="#E8903A" text-anchor="middle" font-weight="normal" stroke="#E8903A" stroke-width="0.16" letter-spacing="-0.25">52.2%</text>
<text x="300.8" y="309.3" font-size="7.4" fill="#111" text-anchor="middle" font-weight="bold" letter-spacing="-0.25">9.1%</text>
<text x="275.9" y="343.3" font-size="7.4" fill="#E8903A" text-anchor="middle" font-weight="normal" stroke="#E8903A" stroke-width="0.16" letter-spacing="-0.25">43.4%</text>
<text x="408.8" y="315.9" font-size="7.4" fill="#111" text-anchor="middle" font-weight="bold" letter-spacing="-0.25">13.5%</text>
<text x="375.8" y="337" font-size="7.4" fill="#E8903A" text-anchor="middle" font-weight="normal" stroke="#E8903A" stroke-width="0.16" letter-spacing="-0.25">60.0%</text>
<text x="130.1" y="461.8" font-size="7.4" fill="#222" text-anchor="middle" font-weight="normal" stroke="#222" stroke-width="0.16" letter-spacing="-0.25">1.4%</text>
<text x="119.3" y="544.1" font-size="7.4" fill="#222" text-anchor="middle" font-weight="normal" stroke="#222" stroke-width="0.16" letter-spacing="-0.25">0.4%</text>
<text x="226" y="475.1" font-size="7.4" fill="#1a2040" text-anchor="middle" font-weight="normal" stroke="#1a2040" stroke-width="0.16" letter-spacing="-0.25">10.8%</text>
<text x="215.9" y="516.8" font-size="7.4" fill="#FFFFFF" text-anchor="middle" font-weight="normal" stroke="#FFFFFF" stroke-width="0.16" letter-spacing="-0.25">47.6%</text>
<text x="306.8" y="476.6" font-size="7.4" fill="#1a2040" text-anchor="middle" font-weight="normal" stroke="#1a2040" stroke-width="0.16" letter-spacing="-0.25">11.3%</text>
<text x="288.8" y="517.9" font-size="7.4" fill="#FFFFFF" text-anchor="middle" font-weight="normal" stroke="#FFFFFF" stroke-width="0.16" letter-spacing="-0.25">36.1%</text>
<text x="400.1" y="462.2" font-size="7.4" fill="#222" text-anchor="middle" font-weight="normal" stroke="#222" stroke-width="0.16" letter-spacing="-0.25">3.1%</text>
<text x="399.8" y="513.3" font-size="7.4" fill="#FFFFFF" text-anchor="middle" font-weight="normal" stroke="#FFFFFF" stroke-width="0.16" letter-spacing="-0.25">43.2%</text>
<text x="107.8" y="574.6" font-size="10.6" fill="#1a1a1a" text-anchor="middle" font-weight="normal" stroke="#1a1a1a" stroke-width="0.06" >P153</text>
<clipPath id="clP153"><rect x="55.5" y="580.7" width="104.4" height="99.5"/></clipPath>
<g clip-path="url(#clP153)" fill="none" stroke-linecap="round" stroke-linejoin="round"><path d="M60.00,676.25 C60.83,675.42 62.08,674.79 65.00,671.25 C67.92,667.71 73.33,659.38 77.50,655.00 C81.67,650.62 85.42,649.38 90.00,645.00 C94.58,640.62 100.00,633.54 105.00,628.75 C110.00,623.96 115.42,620.42 120.00,616.25 C124.58,612.08 129.17,607.50 132.50,603.75 C135.83,600.00 137.92,596.67 140.00,593.75 C142.08,590.83 143.75,587.71 145.00,586.25 C146.25,584.79 145.67,585.21 147.50,585.00 C149.33,584.79 154.58,585.00 156.00,585.00" stroke="#C4C4C4" stroke-width="1.3"/><path d="M60.00,655.00 C60.83,651.67 63.33,640.83 65.00,635.00 C66.67,629.17 67.92,626.25 70.00,620.00 C72.08,613.75 75.21,602.50 77.50,597.50 C79.79,592.50 81.67,591.75 83.75,590.00 C85.83,588.25 87.29,587.75 90.00,587.00 C92.71,586.25 98.33,585.75 100.00,585.50" stroke="#E89884" stroke-width="1.6"/><path d="M60.00,643.75 C60.62,641.04 62.50,632.92 63.75,627.50 C65.00,622.08 66.04,615.21 67.50,611.25 C68.96,607.29 70.83,606.46 72.50,603.75 C74.17,601.04 75.83,597.38 77.50,595.00 C79.17,592.62 80.62,590.83 82.50,589.50 C84.38,588.17 86.25,587.60 88.75,587.00 C91.25,586.40 96.04,586.08 97.50,585.90" stroke="#B5173C" stroke-width="1.9"/><path d="M60.00,648.75 C60.83,646.67 62.92,640.62 65.00,636.25 C67.08,631.88 70.00,627.29 72.50,622.50 C75.00,617.71 77.92,612.29 80.00,607.50 C82.08,602.71 83.33,597.00 85.00,593.75 C86.67,590.50 87.50,589.27 90.00,588.00 C92.50,586.73 95.83,586.55 100.00,586.10 C104.17,585.65 110.00,585.47 115.00,585.30 C120.00,585.13 127.50,585.13 130.00,585.10" stroke="#5EAE3C" stroke-width="1.9"/><path d="M60.00,672.00 C60.83,671.04 62.92,669.08 65.00,666.25 C67.08,663.42 70.42,658.96 72.50,655.00 C74.58,651.04 75.62,647.92 77.50,642.50 C79.38,637.08 81.25,630.42 83.75,622.50 C86.25,614.58 90.21,600.50 92.50,595.00 C94.79,589.50 95.42,590.83 97.50,589.50 C99.58,588.17 100.00,587.67 105.00,587.00 C110.00,586.33 119.17,585.83 127.50,585.50 C135.83,585.17 150.42,585.08 155.00,585.00" stroke="#3B4663" stroke-width="1.7"/></g>
<line x1="55.5" y1="594.3" x2="159.9" y2="594.3" stroke="#111" stroke-width="1.2" stroke-dasharray="3 2.3" stroke-dashoffset="0.3"/>
<rect x="55.5" y="580.7" width="104.40" height="99.50" fill="none" stroke="#111" stroke-width="1.5" stroke-linejoin="round"/>
<line x1="59.80" y1="680.2" x2="59.80" y2="684" stroke="#111" stroke-width="1"/>
<text x="54.10" y="695" font-size="9" fill="#222">10<tspan dy="-3.3" font-size="6">0</tspan></text>
<line x1="78.10" y1="680.2" x2="78.10" y2="684" stroke="#111" stroke-width="1"/>
<text x="72.40" y="695" font-size="9" fill="#222">10<tspan dy="-3.3" font-size="6">0</tspan></text>
<line x1="96.40" y1="680.2" x2="96.40" y2="684" stroke="#111" stroke-width="1"/>
<text x="90.70" y="695" font-size="9" fill="#222">10<tspan dy="-3.3" font-size="6">0</tspan></text>
<line x1="114.70" y1="680.2" x2="114.70" y2="684" stroke="#111" stroke-width="1"/>
<text x="109.00" y="695" font-size="9" fill="#222">10<tspan dy="-3.3" font-size="6">0</tspan></text>
<line x1="133.00" y1="680.2" x2="133.00" y2="684" stroke="#111" stroke-width="1"/>
<text x="127.30" y="695" font-size="9" fill="#222">10<tspan dy="-3.3" font-size="6">0</tspan></text>
<line x1="151.30" y1="680.2" x2="151.30" y2="684" stroke="#111" stroke-width="1"/>
<text x="145.60" y="695" font-size="9" fill="#222">10<tspan dy="-3.3" font-size="6">0</tspan></text>
<text x="0" y="0" font-size="9.3" fill="#4A5373" text-anchor="end" font-weight="normal" stroke="#4A5373" stroke-width="0.14" transform="translate(153.8,642.6) scale(0.95,1)">70</text>
<text x="0" y="0" font-size="9.3" fill="#B5173C" text-anchor="end" font-weight="normal" stroke="#B5173C" stroke-width="0.14" transform="translate(153.8,653.6) scale(0.95,1)">8</text>
<text x="0" y="0" font-size="9.3" fill="#E89884" text-anchor="end" font-weight="normal" stroke="#E89884" stroke-width="0.14" transform="translate(153.8,663.5) scale(0.95,1)">11</text>
<text x="0" y="0" font-size="9.3" fill="#5EAE3C" text-anchor="end" font-weight="normal" stroke="#5EAE3C" stroke-width="0.14" transform="translate(153.8,674.6) scale(0.95,1)">21</text>
<text x="225" y="574.6" font-size="10.6" fill="#1a1a1a" text-anchor="middle" font-weight="normal" stroke="#1a1a1a" stroke-width="0.06" >P154</text>
<clipPath id="clP154"><rect x="172.6" y="580.7" width="104.6" height="99.5"/></clipPath>
<g clip-path="url(#clP154)" fill="none" stroke-linecap="round" stroke-linejoin="round"><path d="M177.50,676.25 C178.75,675.21 182.50,673.54 185.00,670.00 C187.50,666.46 188.75,659.58 192.50,655.00 C196.25,650.42 202.50,647.08 207.50,642.50 C212.50,637.92 217.92,631.88 222.50,627.50 C227.08,623.12 230.83,620.00 235.00,616.25 C239.17,612.50 244.17,608.75 247.50,605.00 C250.83,601.25 252.50,597.08 255.00,593.75 C257.50,590.42 259.67,586.46 262.50,585.00 C265.33,583.54 270.42,585.00 272.00,585.00" stroke="#C4C4C4" stroke-width="1.3"/><path d="M177.00,626.25 C178.33,623.33 182.42,613.96 185.00,608.75 C187.58,603.54 190.00,598.33 192.50,595.00 C195.00,591.67 197.08,590.21 200.00,588.75 C202.92,587.29 205.83,586.83 210.00,586.25 C214.17,585.67 222.50,585.46 225.00,585.30" stroke="#E89884" stroke-width="1.6"/><path d="M177.00,620.00 C178.12,616.67 181.17,604.58 183.75,600.00 C186.33,595.42 188.96,594.67 192.50,592.50 C196.04,590.33 200.42,588.17 205.00,587.00 C209.58,585.83 217.50,585.75 220.00,585.50" stroke="#B5173C" stroke-width="1.9"/><path d="M177.00,613.75 C178.12,611.25 181.17,602.50 183.75,598.75 C186.33,595.00 188.96,593.33 192.50,591.25 C196.04,589.17 199.58,587.29 205.00,586.25 C210.42,585.21 219.17,585.21 225.00,585.00 C230.83,584.79 237.50,585.00 240.00,585.00" stroke="#5EAE3C" stroke-width="1.9"/><path d="M177.50,671.25 C179.17,668.54 185.00,659.79 187.50,655.00 C190.00,650.21 190.83,647.08 192.50,642.50 C194.17,637.92 195.42,633.33 197.50,627.50 C199.58,621.67 202.29,613.33 205.00,607.50 C207.71,601.67 210.42,596.04 213.75,592.50 C217.08,588.96 218.96,587.45 225.00,586.25 C231.04,585.05 242.08,585.51 250.00,585.30 C257.92,585.09 268.75,585.05 272.50,585.00" stroke="#3B4663" stroke-width="1.7"/></g>
<line x1="172.6" y1="594.3" x2="277.2" y2="594.3" stroke="#111" stroke-width="1.2" stroke-dasharray="3 2.3" stroke-dashoffset="0.3"/>
<rect x="172.6" y="580.7" width="104.60" height="99.50" fill="none" stroke="#111" stroke-width="1.5" stroke-linejoin="round"/>
<line x1="177.20" y1="680.2" x2="177.20" y2="684" stroke="#111" stroke-width="1"/>
<text x="171.50" y="695" font-size="9" fill="#222">10<tspan dy="-3.3" font-size="6">0</tspan></text>
<line x1="195.50" y1="680.2" x2="195.50" y2="684" stroke="#111" stroke-width="1"/>
<text x="189.80" y="695" font-size="9" fill="#222">10<tspan dy="-3.3" font-size="6">0</tspan></text>
<line x1="213.80" y1="680.2" x2="213.80" y2="684" stroke="#111" stroke-width="1"/>
<text x="208.10" y="695" font-size="9" fill="#222">10<tspan dy="-3.3" font-size="6">0</tspan></text>
<line x1="232.10" y1="680.2" x2="232.10" y2="684" stroke="#111" stroke-width="1"/>
<text x="226.40" y="695" font-size="9" fill="#222">10<tspan dy="-3.3" font-size="6">0</tspan></text>
<line x1="250.40" y1="680.2" x2="250.40" y2="684" stroke="#111" stroke-width="1"/>
<text x="244.70" y="695" font-size="9" fill="#222">10<tspan dy="-3.3" font-size="6">0</tspan></text>
<line x1="268.70" y1="680.2" x2="268.70" y2="684" stroke="#111" stroke-width="1"/>
<text x="263.00" y="695" font-size="9" fill="#222">10<tspan dy="-3.3" font-size="6">0</tspan></text>
<text x="0" y="0" font-size="9.3" fill="#4A5373" text-anchor="end" font-weight="normal" stroke="#4A5373" stroke-width="0.14" transform="translate(270.5,642.6) scale(0.95,1)">101</text>
<text x="0" y="0" font-size="9.3" fill="#B5173C" text-anchor="end" font-weight="normal" stroke="#B5173C" stroke-width="0.14" transform="translate(270.5,653.6) scale(0.95,1)">5</text>
<text x="0" y="0" font-size="9.3" fill="#E89884" text-anchor="end" font-weight="normal" stroke="#E89884" stroke-width="0.14" transform="translate(270.5,663.5) scale(0.95,1)">7</text>
<text x="0" y="0" font-size="9.3" fill="#5EAE3C" text-anchor="end" font-weight="normal" stroke="#5EAE3C" stroke-width="0.14" transform="translate(270.5,674.6) scale(0.95,1)">5</text>
<text x="342.5" y="574.6" font-size="10.6" fill="#1a1a1a" text-anchor="middle" font-weight="normal" stroke="#1a1a1a" stroke-width="0.06" >P155</text>
<clipPath id="clP155"><rect x="290.1" y="580.7" width="104.79999999999995" height="99.5"/></clipPath>
<g clip-path="url(#clP155)" fill="none" stroke-linecap="round" stroke-linejoin="round"><path d="M294.50,676.50 C295.83,675.00 299.50,671.08 302.50,667.50 C305.50,663.92 307.92,659.58 312.50,655.00 C317.08,650.42 325.00,645.00 330.00,640.00 C335.00,635.00 338.33,629.17 342.50,625.00 C346.67,620.83 351.25,618.33 355.00,615.00 C358.75,611.67 361.88,608.75 365.00,605.00 C368.12,601.25 371.25,595.83 373.75,592.50 C376.25,589.17 377.29,586.25 380.00,585.00 C382.71,583.75 388.33,585.00 390.00,585.00" stroke="#C4C4C4" stroke-width="1.3"/><path d="M294.50,667.50 C296.25,662.29 301.17,647.92 305.00,636.25 C308.83,624.58 314.17,605.42 317.50,597.50 C320.83,589.58 322.08,590.75 325.00,588.75 C327.92,586.75 333.33,586.04 335.00,585.50" stroke="#E89884" stroke-width="1.6"/><path d="M294.50,666.25 C295.42,663.96 298.25,657.71 300.00,652.50 C301.75,647.29 303.33,640.62 305.00,635.00 C306.67,629.38 308.33,624.17 310.00,618.75 C311.67,613.33 313.33,607.08 315.00,602.50 C316.67,597.92 318.12,593.83 320.00,591.25 C321.88,588.67 323.33,588.04 326.25,587.00 C329.17,585.96 335.62,585.33 337.50,585.00" stroke="#B5173C" stroke-width="1.9"/><path d="M294.50,663.75 C295.83,661.04 299.92,653.54 302.50,647.50 C305.08,641.46 307.50,634.58 310.00,627.50 C312.50,620.42 315.00,611.25 317.50,605.00 C320.00,598.75 322.92,593.00 325.00,590.00 C327.08,587.00 326.67,587.83 330.00,587.00 C333.33,586.17 340.00,585.33 345.00,585.00 C350.00,584.67 357.50,585.00 360.00,585.00" stroke="#5EAE3C" stroke-width="1.9"/><path d="M294.50,676.25 C295.83,674.79 299.50,671.25 302.50,667.50 C305.50,663.75 309.17,659.58 312.50,653.75 C315.83,647.92 319.58,638.96 322.50,632.50 C325.42,626.04 327.08,621.25 330.00,615.00 C332.92,608.75 336.67,599.67 340.00,595.00 C343.33,590.33 346.25,588.58 350.00,587.00 C353.75,585.42 355.90,585.83 362.50,585.50 C369.10,585.17 385.08,585.08 389.60,585.00" stroke="#3B4663" stroke-width="1.7"/></g>
<line x1="290.1" y1="594.3" x2="394.9" y2="594.3" stroke="#111" stroke-width="1.2" stroke-dasharray="3 2.3" stroke-dashoffset="0.3"/>
<rect x="290.1" y="580.7" width="104.80" height="99.50" fill="none" stroke="#111" stroke-width="1.5" stroke-linejoin="round"/>
<line x1="294.60" y1="680.2" x2="294.60" y2="684" stroke="#111" stroke-width="1"/>
<text x="288.90" y="695" font-size="9" fill="#222">10<tspan dy="-3.3" font-size="6">0</tspan></text>
<line x1="312.90" y1="680.2" x2="312.90" y2="684" stroke="#111" stroke-width="1"/>
<text x="307.20" y="695" font-size="9" fill="#222">10<tspan dy="-3.3" font-size="6">0</tspan></text>
<line x1="331.20" y1="680.2" x2="331.20" y2="684" stroke="#111" stroke-width="1"/>
<text x="325.50" y="695" font-size="9" fill="#222">10<tspan dy="-3.3" font-size="6">0</tspan></text>
<line x1="349.50" y1="680.2" x2="349.50" y2="684" stroke="#111" stroke-width="1"/>
<text x="343.80" y="695" font-size="9" fill="#222">10<tspan dy="-3.3" font-size="6">0</tspan></text>
<line x1="367.80" y1="680.2" x2="367.80" y2="684" stroke="#111" stroke-width="1"/>
<text x="362.10" y="695" font-size="9" fill="#222">10<tspan dy="-3.3" font-size="6">0</tspan></text>
<line x1="386.10" y1="680.2" x2="386.10" y2="684" stroke="#111" stroke-width="1"/>
<text x="380.40" y="695" font-size="9" fill="#222">10<tspan dy="-3.3" font-size="6">0</tspan></text>
<text x="0" y="0" font-size="9.3" fill="#4A5373" text-anchor="end" font-weight="normal" stroke="#4A5373" stroke-width="0.14" transform="translate(388.8,642.6) scale(0.95,1)">322</text>
<text x="0" y="0" font-size="9.3" fill="#B5173C" text-anchor="end" font-weight="normal" stroke="#B5173C" stroke-width="0.14" transform="translate(388.8,653.6) scale(0.95,1)">21</text>
<text x="0" y="0" font-size="9.3" fill="#E89884" text-anchor="end" font-weight="normal" stroke="#E89884" stroke-width="0.14" transform="translate(388.8,663.5) scale(0.95,1)">26</text>
<text x="0" y="0" font-size="9.3" fill="#5EAE3C" text-anchor="end" font-weight="normal" stroke="#5EAE3C" stroke-width="0.14" transform="translate(388.8,674.6) scale(0.95,1)">36</text>
<text x="460" y="574.6" font-size="10.6" fill="#1a1a1a" text-anchor="middle" font-weight="normal" stroke="#1a1a1a" stroke-width="0.06" >P156</text>
<clipPath id="clP156"><rect x="407.4" y="580.7" width="104.89999999999998" height="99.5"/></clipPath>
<g clip-path="url(#clP156)" fill="none" stroke-linecap="round" stroke-linejoin="round"><path d="M412.00,675.50 C413.33,674.17 417.00,670.92 420.00,667.50 C423.00,664.08 426.25,659.17 430.00,655.00 C433.75,650.83 437.92,647.29 442.50,642.50 C447.08,637.71 452.50,630.83 457.50,626.25 C462.50,621.67 467.92,618.54 472.50,615.00 C477.08,611.46 481.67,608.75 485.00,605.00 C488.33,601.25 490.42,595.83 492.50,592.50 C494.58,589.17 495.42,586.25 497.50,585.00 C499.58,583.75 503.75,585.00 505.00,585.00" stroke="#C4C4C4" stroke-width="1.3"/><path d="M412.00,654.50 C412.92,650.42 415.75,639.08 417.50,630.00 C419.25,620.92 420.83,606.46 422.50,600.00 C424.17,593.54 425.42,593.25 427.50,591.25 C429.58,589.25 431.25,588.88 435.00,588.00 C438.75,587.12 447.50,586.33 450.00,586.00" stroke="#E89884" stroke-width="1.6"/><path d="M412.00,643.75 C412.50,640.62 413.67,632.71 415.00,625.00 C416.33,617.29 417.92,603.12 420.00,597.50 C422.08,591.88 424.17,592.71 427.50,591.25 C430.83,589.79 435.42,589.58 440.00,588.75 C444.58,587.92 450.00,586.83 455.00,586.25 C460.00,585.67 467.50,585.46 470.00,585.30" stroke="#B5173C" stroke-width="1.9"/><path d="M412.00,640.50 C413.33,637.08 417.83,626.33 420.00,620.00 C422.17,613.67 423.33,607.50 425.00,602.50 C426.67,597.50 427.50,592.58 430.00,590.00 C432.50,587.42 435.83,587.83 440.00,587.00 C444.17,586.17 450.00,585.33 455.00,585.00 C460.00,584.67 467.50,585.00 470.00,585.00" stroke="#5EAE3C" stroke-width="1.9"/><path d="M412.00,671.25 C413.33,669.38 417.42,664.79 420.00,660.00 C422.58,655.21 425.21,648.75 427.50,642.50 C429.79,636.25 431.67,630.00 433.75,622.50 C435.83,615.00 437.29,603.33 440.00,597.50 C442.71,591.67 445.83,589.50 450.00,587.50 C454.17,585.50 455.50,585.92 465.00,585.50 C474.50,585.08 500.00,585.08 507.00,585.00" stroke="#3B4663" stroke-width="1.7"/></g>
<line x1="407.4" y1="594.3" x2="512.3" y2="594.3" stroke="#111" stroke-width="1.2" stroke-dasharray="3 2.3" stroke-dashoffset="0.3"/>
<rect x="407.4" y="580.7" width="104.90" height="99.50" fill="none" stroke="#111" stroke-width="1.5" stroke-linejoin="round"/>
<line x1="412.20" y1="680.2" x2="412.20" y2="684" stroke="#111" stroke-width="1"/>
<text x="406.50" y="695" font-size="9" fill="#222">10<tspan dy="-3.3" font-size="6">0</tspan></text>
<line x1="430.50" y1="680.2" x2="430.50" y2="684" stroke="#111" stroke-width="1"/>
<text x="424.80" y="695" font-size="9" fill="#222">10<tspan dy="-3.3" font-size="6">0</tspan></text>
<line x1="448.80" y1="680.2" x2="448.80" y2="684" stroke="#111" stroke-width="1"/>
<text x="443.10" y="695" font-size="9" fill="#222">10<tspan dy="-3.3" font-size="6">0</tspan></text>
<line x1="467.10" y1="680.2" x2="467.10" y2="684" stroke="#111" stroke-width="1"/>
<text x="461.40" y="695" font-size="9" fill="#222">10<tspan dy="-3.3" font-size="6">0</tspan></text>
<line x1="485.40" y1="680.2" x2="485.40" y2="684" stroke="#111" stroke-width="1"/>
<text x="479.70" y="695" font-size="9" fill="#222">10<tspan dy="-3.3" font-size="6">0</tspan></text>
<line x1="503.70" y1="680.2" x2="503.70" y2="684" stroke="#111" stroke-width="1"/>
<text x="498.00" y="695" font-size="9" fill="#222">10<tspan dy="-3.3" font-size="6">0</tspan></text>
<text x="0" y="0" font-size="9.3" fill="#4A5373" text-anchor="end" font-weight="normal" stroke="#4A5373" stroke-width="0.14" transform="translate(505.5,642.6) scale(0.95,1)">44</text>
<text x="0" y="0" font-size="9.3" fill="#B5173C" text-anchor="end" font-weight="normal" stroke="#B5173C" stroke-width="0.14" transform="translate(505.5,653.6) scale(0.95,1)">4</text>
<text x="0" y="0" font-size="9.3" fill="#E89884" text-anchor="end" font-weight="normal" stroke="#E89884" stroke-width="0.14" transform="translate(505.5,663.5) scale(0.95,1)">5</text>
<text x="0" y="0" font-size="9.3" fill="#5EAE3C" text-anchor="end" font-weight="normal" stroke="#5EAE3C" stroke-width="0.14" transform="translate(505.5,674.6) scale(0.95,1)">9</text>
<line x1="52" y1="584.8" x2="55.5" y2="584.8" stroke="#111" stroke-width="1"/>
<text x="0" y="0" font-size="10.2" fill="#222" text-anchor="end" font-weight="normal" stroke="#222" stroke-width="0.1" transform="translate(48.2,588.30) scale(0.85,1)">1</text>
<line x1="52" y1="632.6" x2="55.5" y2="632.6" stroke="#111" stroke-width="1"/>
<text x="0" y="0" font-size="10.2" fill="#222" text-anchor="end" font-weight="normal" stroke="#222" stroke-width="0.1" transform="translate(48.2,636.10) scale(0.85,1)">0.5</text>
<line x1="52" y1="680.2" x2="55.5" y2="680.2" stroke="#111" stroke-width="1"/>
<text x="0" y="0" font-size="10.2" fill="#222" text-anchor="end" font-weight="normal" stroke="#222" stroke-width="0.1" transform="translate(48.2,683.70) scale(0.85,1)">0</text>
<text x="0" y="0" font-size="10.4" fill="#222" text-anchor="middle" font-weight="normal" stroke="#222" stroke-width="0.1" transform="translate(29.3,631.5) rotate(-90) scale(0.86,1)">Cumulative fraction</text>
<text x="0" y="0" font-size="11" fill="#222" text-anchor="middle" font-weight="normal" stroke="#222" stroke-width="0.12" transform="translate(283.85,710.2) scale(0.71,1)">Ranks</text>
<line x1="127" y1="727.3" x2="143" y2="727.3" stroke="#C4C4C4" stroke-width="1.5"/>
<text x="147" y="730.2" font-size="8.4" fill="#222" text-anchor="start" font-weight="normal" stroke="#222" stroke-width="0.16" >Injection (20,686)</text>
<line x1="223" y1="727.3" x2="239" y2="727.3" stroke="#3B4663" stroke-width="1.5"/>
<text x="243" y="730.2" font-size="8.4" fill="#222" text-anchor="start" font-weight="normal" stroke="#222" stroke-width="0.16" >Primary</text>
<line x1="281.5" y1="727.3" x2="297.7" y2="727.3" stroke="#B5173C" stroke-width="1.5"/>
<text x="301.5" y="730.2" font-size="8.4" fill="#222" text-anchor="start" font-weight="normal" stroke="#222" stroke-width="0.16" >BM left</text>
<line x1="340.4" y1="727.3" x2="356.5" y2="727.3" stroke="#E89884" stroke-width="1.5"/>
<text x="360" y="730.2" font-size="8.4" fill="#222" text-anchor="start" font-weight="normal" stroke="#222" stroke-width="0.16" >BM right</text>
<line x1="403.8" y1="727.3" x2="420" y2="727.3" stroke="#5EAE3C" stroke-width="1.5"/>
<text x="423.8" y="730.2" font-size="8.4" fill="#222" text-anchor="start" font-weight="normal" stroke="#222" stroke-width="0.16" >CTC</text>
<rect x="0.75" y="0.75" width="518.5" height="738.5" fill="none" stroke="#000" stroke-width="1.5"/>
</svg>
</div>
</body></html>
